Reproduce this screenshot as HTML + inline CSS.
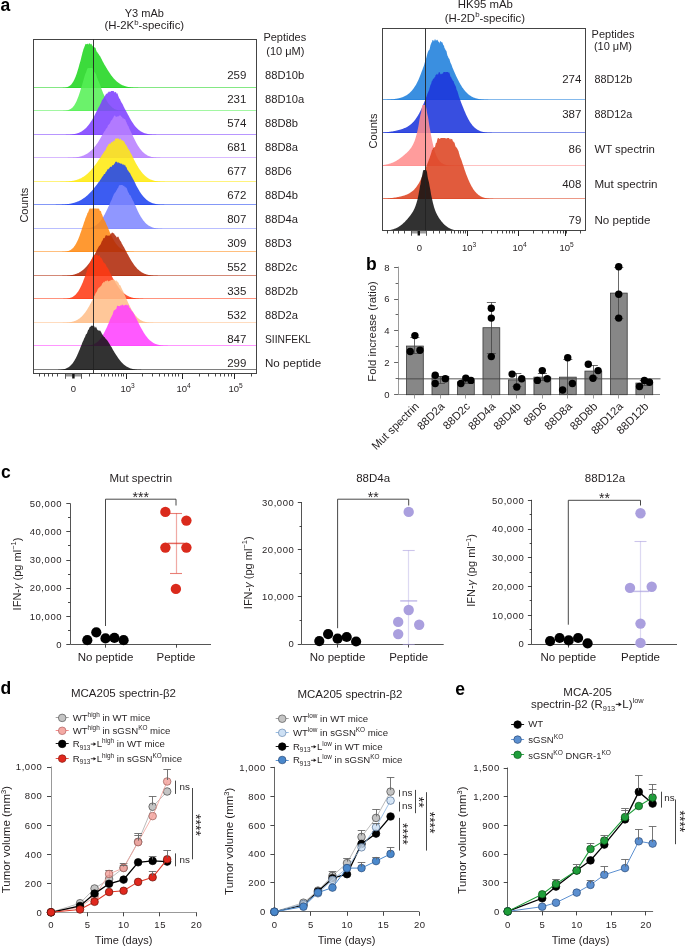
<!DOCTYPE html>
<html><head><meta charset="utf-8"><style>
html,body{margin:0;padding:0;background:#fff;}
body{width:685px;height:946px;overflow:hidden;}
svg{display:block;font-family:"Liberation Sans", sans-serif;will-change:transform;}
</style></head><body>
<svg width="685" height="946" viewBox="0 0 685 946">
<text x="0.50" y="10.80" font-size="17.5" text-anchor="start" font-weight="bold" fill="#000" >a</text>
<text x="144.30" y="17.00" font-size="11" text-anchor="middle" font-weight="normal" fill="#231f20" >Y3 mAb</text>
<text x="104.44" y="29.40" font-size="11.4" fill="#231f20">(H-2K</text>
<text x="134.21" y="25.10" font-size="7.8" fill="#231f20">b</text>
<text x="138.55" y="29.40" font-size="11.4" fill="#231f20">-specific)</text>
<path d="M60.5,88.00 L60.5,87.96 L61.0,87.94 L61.5,87.93 L62.0,87.91 L62.5,87.88 L63.0,87.85 L63.5,87.82 L64.0,87.77 L64.5,87.71 L65.0,87.64 L65.5,87.56 L66.0,87.46 L66.5,87.34 L67.0,87.19 L67.5,87.02 L68.0,86.82 L68.5,86.59 L69.0,86.31 L69.5,85.99 L70.0,85.62 L70.5,85.20 L71.0,84.72 L71.5,84.17 L72.0,83.55 L72.5,82.86 L73.0,82.09 L73.5,81.23 L74.0,80.28 L74.5,79.24 L75.0,78.11 L75.5,76.89 L76.0,75.57 L76.5,74.16 L77.0,72.66 L77.5,71.06 L78.0,69.41 L78.5,67.65 L79.0,65.88 L79.5,64.11 L80.0,62.48 L80.5,60.72 L81.0,58.64 L81.5,56.42 L82.0,54.75 L82.5,52.62 L83.0,50.90 L83.5,48.95 L84.0,48.02 L84.5,46.55 L85.0,45.56 L85.5,43.81 L86.0,44.25 L86.5,44.07 L87.0,44.34 L87.5,43.42 L88.0,44.34 L88.5,44.59 L89.0,43.21 L89.5,43.62 L90.0,43.38 L90.5,44.55 L91.0,43.88 L91.5,43.76 L92.0,45.38 L92.5,45.39 L93.0,46.46 L93.5,47.40 L94.0,47.49 L94.5,47.25 L95.0,47.45 L95.5,47.90 L96.0,49.63 L96.5,50.90 L97.0,52.21 L97.5,52.29 L98.0,53.54 L98.5,53.80 L99.0,54.87 L99.5,55.57 L100.0,56.27 L100.5,56.86 L101.0,58.15 L101.5,58.65 L102.0,59.92 L102.5,61.01 L103.0,61.90 L103.5,62.76 L104.0,63.81 L104.5,64.67 L105.0,65.42 L105.5,66.20 L106.0,67.18 L106.5,68.08 L107.0,68.86 L107.5,69.71 L108.0,70.52 L108.5,71.28 L109.0,72.05 L109.5,72.82 L110.0,73.57 L110.5,74.29 L111.0,74.99 L111.5,75.67 L112.0,76.33 L112.5,76.97 L113.0,77.58 L113.5,78.17 L114.0,78.74 L114.5,79.28 L115.0,79.81 L115.5,80.31 L116.0,80.78 L116.5,81.24 L117.0,81.67 L117.5,82.08 L118.0,82.48 L118.5,82.85 L119.0,83.20 L119.5,83.53 L120.0,83.85 L120.5,84.15 L121.0,84.43 L121.5,84.69 L122.0,84.94 L122.5,85.17 L123.0,85.39 L123.5,85.59 L124.0,85.78 L124.5,85.96 L125.0,86.12 L125.5,86.28 L126.0,86.42 L126.5,86.55 L127.0,86.68 L127.5,86.79 L128.0,86.90 L128.5,87.00 L129.0,87.09 L129.5,87.17 L130.0,87.24 L130.5,87.31 L131.0,87.38 L131.5,87.44 L132.0,87.49 L132.5,87.54 L133.0,87.59 L133.5,87.63 L134.0,87.66 L134.5,87.70 L135.0,87.73 L135.5,87.76 L136.0,87.78 L136.5,87.80 L137.0,87.83 L137.5,87.84 L138.0,87.86 L138.5,87.88 L139.0,87.89 L139.5,87.90 L140.0,87.91 L140.5,87.92 L141.0,87.93 L141.5,87.94 L142.0,87.95 L142.5,87.95 L142.5,88.00 Z" fill="#1fd61f" fill-opacity="0.87"/>
<line x1="33.5" y1="87.50" x2="256.5" y2="87.50" stroke="#1fd61f" stroke-opacity="0.55" stroke-width="1"/>
<path d="M61.0,111.00 L61.0,110.96 L61.5,110.94 L62.0,110.93 L62.5,110.91 L63.0,110.89 L63.5,110.86 L64.0,110.83 L64.5,110.79 L65.0,110.74 L65.5,110.68 L66.0,110.61 L66.5,110.52 L67.0,110.42 L67.5,110.31 L68.0,110.17 L68.5,110.00 L69.0,109.82 L69.5,109.60 L70.0,109.34 L70.5,109.05 L71.0,108.72 L71.5,108.34 L72.0,107.92 L72.5,107.44 L73.0,106.90 L73.5,106.30 L74.0,105.63 L74.5,104.89 L75.0,104.08 L75.5,103.19 L76.0,102.23 L76.5,101.19 L77.0,100.07 L77.5,98.87 L78.0,97.60 L78.5,96.26 L79.0,94.83 L79.5,93.32 L80.0,91.78 L80.5,90.10 L81.0,88.46 L81.5,86.83 L82.0,85.32 L82.5,83.50 L83.0,81.70 L83.5,79.97 L84.0,78.33 L84.5,76.61 L85.0,74.78 L85.5,73.60 L86.0,72.51 L86.5,71.01 L87.0,69.50 L87.5,68.46 L88.0,68.10 L88.5,68.10 L89.0,68.19 L89.5,68.10 L90.0,68.10 L90.5,68.10 L91.0,68.10 L91.5,68.10 L92.0,68.10 L92.5,68.29 L93.0,68.73 L93.5,70.57 L94.0,71.85 L94.5,72.13 L95.0,72.54 L95.5,73.61 L96.0,74.18 L96.5,75.87 L97.0,77.87 L97.5,78.61 L98.0,80.31 L98.5,81.08 L99.0,82.13 L99.5,83.57 L100.0,84.81 L100.5,86.04 L101.0,87.72 L101.5,88.92 L102.0,90.32 L102.5,91.50 L103.0,92.76 L103.5,93.95 L104.0,95.12 L104.5,96.22 L105.0,97.28 L105.5,98.29 L106.0,99.26 L106.5,100.18 L107.0,101.06 L107.5,101.88 L108.0,102.66 L108.5,103.39 L109.0,104.08 L109.5,104.72 L110.0,105.31 L110.5,105.86 L111.0,106.37 L111.5,106.84 L112.0,107.27 L112.5,107.66 L113.0,108.02 L113.5,108.35 L114.0,108.65 L114.5,108.92 L115.0,109.16 L115.5,109.38 L116.0,109.58 L116.5,109.75 L117.0,109.91 L117.5,110.05 L118.0,110.17 L118.5,110.28 L119.0,110.38 L119.5,110.46 L120.0,110.54 L120.5,110.60 L121.0,110.66 L121.5,110.71 L122.0,110.75 L122.5,110.79 L123.0,110.82 L123.5,110.85 L124.0,110.87 L124.5,110.89 L125.0,110.91 L125.5,110.92 L126.0,110.94 L126.5,110.95 L127.0,110.96 L127.0,111.00 Z" fill="#55f055" fill-opacity="0.87"/>
<line x1="33.5" y1="110.50" x2="256.5" y2="110.50" stroke="#55f055" stroke-opacity="0.55" stroke-width="1"/>
<path d="M62.0,135.00 L62.0,134.95 L62.5,134.94 L63.0,134.94 L63.5,134.93 L64.0,134.92 L64.5,134.90 L65.0,134.89 L65.5,134.88 L66.0,134.86 L66.5,134.84 L67.0,134.82 L67.5,134.80 L68.0,134.77 L68.5,134.74 L69.0,134.71 L69.5,134.67 L70.0,134.63 L70.5,134.59 L71.0,134.54 L71.5,134.49 L72.0,134.43 L72.5,134.36 L73.0,134.29 L73.5,134.21 L74.0,134.12 L74.5,134.03 L75.0,133.93 L75.5,133.81 L76.0,133.69 L76.5,133.56 L77.0,133.41 L77.5,133.25 L78.0,133.08 L78.5,132.89 L79.0,132.70 L79.5,132.48 L80.0,132.25 L80.5,132.00 L81.0,131.73 L81.5,131.45 L82.0,131.14 L82.5,130.82 L83.0,130.47 L83.5,130.10 L84.0,129.71 L84.5,129.29 L85.0,128.85 L85.5,128.39 L86.0,127.90 L86.5,127.38 L87.0,126.84 L87.5,126.27 L88.0,125.68 L88.5,125.05 L89.0,124.40 L89.5,123.73 L90.0,123.03 L90.5,122.30 L91.0,121.54 L91.5,120.76 L92.0,119.96 L92.5,119.12 L93.0,118.26 L93.5,117.41 L94.0,116.55 L94.5,115.57 L95.0,114.57 L95.5,113.58 L96.0,112.50 L96.5,111.43 L97.0,110.52 L97.5,109.41 L98.0,108.56 L98.5,107.53 L99.0,106.67 L99.5,106.01 L100.0,104.76 L100.5,103.78 L101.0,102.97 L101.5,101.55 L102.0,100.35 L102.5,99.74 L103.0,98.89 L103.5,98.31 L104.0,97.53 L104.5,96.28 L105.0,95.79 L105.5,94.95 L106.0,94.06 L106.5,94.07 L107.0,93.00 L107.5,93.77 L108.0,91.99 L108.5,92.39 L109.0,91.12 L109.5,92.21 L110.0,91.56 L110.5,91.93 L111.0,90.90 L111.5,90.90 L112.0,90.90 L112.5,90.90 L113.0,90.93 L113.5,90.90 L114.0,91.60 L114.5,92.69 L115.0,91.78 L115.5,92.18 L116.0,92.10 L116.5,93.76 L117.0,93.28 L117.5,93.61 L118.0,95.26 L118.5,96.53 L119.0,97.84 L119.5,98.63 L120.0,98.99 L120.5,100.51 L121.0,101.45 L121.5,102.59 L122.0,103.30 L122.5,104.11 L123.0,105.06 L123.5,106.30 L124.0,107.34 L124.5,108.17 L125.0,109.28 L125.5,110.04 L126.0,110.78 L126.5,111.95 L127.0,112.78 L127.5,113.70 L128.0,114.65 L128.5,115.58 L129.0,116.51 L129.5,117.51 L130.0,118.45 L130.5,119.33 L131.0,120.18 L131.5,121.01 L132.0,121.81 L132.5,122.59 L133.0,123.33 L133.5,124.05 L134.0,124.74 L134.5,125.40 L135.0,126.03 L135.5,126.63 L136.0,127.20 L136.5,127.75 L137.0,128.26 L137.5,128.75 L138.0,129.21 L138.5,129.65 L139.0,130.06 L139.5,130.44 L140.0,130.81 L140.5,131.14 L141.0,131.46 L141.5,131.76 L142.0,132.03 L142.5,132.29 L143.0,132.52 L143.5,132.74 L144.0,132.95 L144.5,133.14 L145.0,133.31 L145.5,133.47 L146.0,133.61 L146.5,133.75 L147.0,133.87 L147.5,133.98 L148.0,134.09 L148.5,134.18 L149.0,134.26 L149.5,134.34 L150.0,134.41 L150.5,134.48 L151.0,134.53 L151.5,134.58 L152.0,134.63 L152.5,134.67 L153.0,134.71 L153.5,134.74 L154.0,134.77 L154.5,134.80 L155.0,134.82 L155.5,134.84 L156.0,134.86 L156.5,134.88 L157.0,134.90 L157.5,134.91 L158.0,134.92 L158.5,134.93 L159.0,134.94 L159.5,134.95 L160.0,134.95 L160.0,135.00 Z" fill="#7d40ff" fill-opacity="0.87"/>
<line x1="33.5" y1="134.50" x2="256.5" y2="134.50" stroke="#7d40ff" stroke-opacity="0.55" stroke-width="1"/>
<path d="M64.0,158.00 L64.0,157.95 L64.5,157.94 L65.0,157.94 L65.5,157.93 L66.0,157.92 L66.5,157.91 L67.0,157.90 L67.5,157.89 L68.0,157.87 L68.5,157.86 L69.0,157.84 L69.5,157.82 L70.0,157.80 L70.5,157.78 L71.0,157.75 L71.5,157.72 L72.0,157.69 L72.5,157.66 L73.0,157.62 L73.5,157.58 L74.0,157.54 L74.5,157.49 L75.0,157.44 L75.5,157.38 L76.0,157.32 L76.5,157.25 L77.0,157.17 L77.5,157.09 L78.0,157.00 L78.5,156.91 L79.0,156.81 L79.5,156.70 L80.0,156.58 L80.5,156.45 L81.0,156.31 L81.5,156.16 L82.0,156.00 L82.5,155.83 L83.0,155.65 L83.5,155.46 L84.0,155.25 L84.5,155.03 L85.0,154.79 L85.5,154.54 L86.0,154.28 L86.5,153.99 L87.0,153.70 L87.5,153.38 L88.0,153.05 L88.5,152.69 L89.0,152.32 L89.5,151.94 L90.0,151.53 L90.5,151.10 L91.0,150.65 L91.5,150.18 L92.0,149.69 L92.5,149.18 L93.0,148.65 L93.5,148.09 L94.0,147.52 L94.5,146.92 L95.0,146.31 L95.5,145.67 L96.0,145.02 L96.5,144.34 L97.0,143.64 L97.5,142.92 L98.0,142.17 L98.5,141.41 L99.0,140.62 L99.5,139.83 L100.0,138.96 L100.5,138.12 L101.0,137.26 L101.5,136.35 L102.0,135.41 L102.5,134.70 L103.0,133.85 L103.5,132.95 L104.0,132.04 L104.5,131.37 L105.0,130.88 L105.5,129.68 L106.0,128.81 L106.5,128.29 L107.0,127.89 L107.5,126.76 L108.0,125.32 L108.5,124.99 L109.0,124.37 L109.5,124.09 L110.0,122.97 L110.5,121.90 L111.0,120.55 L111.5,120.17 L112.0,120.14 L112.5,118.59 L113.0,118.60 L113.5,117.11 L114.0,116.25 L114.5,115.50 L115.0,115.50 L115.5,116.15 L116.0,117.11 L116.5,116.44 L117.0,116.94 L117.5,116.11 L118.0,116.87 L118.5,116.36 L119.0,115.78 L119.5,115.50 L120.0,115.50 L120.5,115.51 L121.0,116.04 L121.5,117.06 L122.0,116.82 L122.5,117.88 L123.0,118.57 L123.5,118.01 L124.0,119.21 L124.5,118.92 L125.0,118.93 L125.5,120.05 L126.0,121.48 L126.5,122.35 L127.0,124.05 L127.5,124.42 L128.0,125.97 L128.5,126.35 L129.0,127.88 L129.5,128.93 L130.0,129.96 L130.5,131.03 L131.0,132.16 L131.5,132.95 L132.0,134.02 L132.5,134.95 L133.0,136.26 L133.5,137.26 L134.0,138.23 L134.5,139.26 L135.0,140.34 L135.5,141.32 L136.0,142.25 L136.5,143.15 L137.0,144.03 L137.5,144.88 L138.0,145.70 L138.5,146.50 L139.0,147.25 L139.5,147.98 L140.0,148.67 L140.5,149.33 L141.0,149.96 L141.5,150.56 L142.0,151.12 L142.5,151.65 L143.0,152.15 L143.5,152.62 L144.0,153.06 L144.5,153.48 L145.0,153.86 L145.5,154.22 L146.0,154.55 L146.5,154.86 L147.0,155.15 L147.5,155.42 L148.0,155.66 L148.5,155.89 L149.0,156.09 L149.5,156.28 L150.0,156.46 L150.5,156.61 L151.0,156.76 L151.5,156.89 L152.0,157.01 L152.5,157.12 L153.0,157.21 L153.5,157.30 L154.0,157.38 L154.5,157.45 L155.0,157.52 L155.5,157.57 L156.0,157.62 L156.5,157.67 L157.0,157.71 L157.5,157.75 L158.0,157.78 L158.5,157.81 L159.0,157.83 L159.5,157.85 L160.0,157.87 L160.5,157.89 L161.0,157.90 L161.5,157.92 L162.0,157.93 L162.5,157.94 L163.0,157.95 L163.5,157.95 L163.5,158.00 Z" fill="#b880ff" fill-opacity="0.87"/>
<line x1="33.5" y1="157.50" x2="256.5" y2="157.50" stroke="#b880ff" stroke-opacity="0.55" stroke-width="1"/>
<path d="M55.5,182.00 L55.5,181.95 L56.0,181.95 L56.5,181.94 L57.0,181.94 L57.5,181.93 L58.0,181.92 L58.5,181.91 L59.0,181.90 L59.5,181.89 L60.0,181.88 L60.5,181.87 L61.0,181.85 L61.5,181.84 L62.0,181.82 L62.5,181.80 L63.0,181.79 L63.5,181.76 L64.0,181.74 L64.5,181.71 L65.0,181.69 L65.5,181.66 L66.0,181.62 L66.5,181.59 L67.0,181.55 L67.5,181.51 L68.0,181.46 L68.5,181.41 L69.0,181.36 L69.5,181.31 L70.0,181.24 L70.5,181.18 L71.0,181.11 L71.5,181.03 L72.0,180.95 L72.5,180.86 L73.0,180.77 L73.5,180.67 L74.0,180.56 L74.5,180.45 L75.0,180.33 L75.5,180.20 L76.0,180.06 L76.5,179.91 L77.0,179.76 L77.5,179.59 L78.0,179.42 L78.5,179.23 L79.0,179.03 L79.5,178.83 L80.0,178.61 L80.5,178.38 L81.0,178.13 L81.5,177.88 L82.0,177.60 L82.5,177.32 L83.0,177.02 L83.5,176.71 L84.0,176.38 L84.5,176.04 L85.0,175.69 L85.5,175.31 L86.0,174.92 L86.5,174.52 L87.0,174.10 L87.5,173.66 L88.0,173.21 L88.5,172.74 L89.0,172.25 L89.5,171.74 L90.0,171.22 L90.5,170.69 L91.0,170.13 L91.5,169.56 L92.0,168.97 L92.5,168.37 L93.0,167.75 L93.5,167.12 L94.0,166.47 L94.5,165.81 L95.0,165.14 L95.5,164.46 L96.0,163.80 L96.5,163.15 L97.0,162.41 L97.5,161.64 L98.0,160.81 L98.5,160.17 L99.0,159.54 L99.5,158.72 L100.0,158.09 L100.5,157.53 L101.0,156.64 L101.5,155.68 L102.0,154.99 L102.5,154.16 L103.0,153.76 L103.5,152.84 L104.0,152.11 L104.5,151.18 L105.0,150.86 L105.5,150.18 L106.0,148.91 L106.5,147.63 L107.0,146.40 L107.5,146.54 L108.0,145.25 L108.5,144.14 L109.0,143.94 L109.5,143.55 L110.0,143.39 L110.5,143.67 L111.0,143.07 L111.5,141.86 L112.0,142.37 L112.5,142.61 L113.0,140.86 L113.5,140.76 L114.0,141.38 L114.5,141.08 L115.0,139.37 L115.5,138.50 L116.0,138.50 L116.5,138.50 L117.0,138.50 L117.5,138.50 L118.0,138.50 L118.5,138.50 L119.0,138.80 L119.5,140.02 L120.0,139.10 L120.5,138.50 L121.0,139.56 L121.5,140.18 L122.0,140.73 L122.5,139.82 L123.0,140.95 L123.5,141.18 L124.0,141.25 L124.5,142.24 L125.0,143.76 L125.5,143.98 L126.0,145.31 L126.5,145.24 L127.0,146.58 L127.5,147.13 L128.0,148.64 L128.5,148.96 L129.0,149.72 L129.5,150.68 L130.0,151.45 L130.5,152.89 L131.0,153.53 L131.5,154.58 L132.0,155.34 L132.5,156.56 L133.0,157.44 L133.5,158.48 L134.0,159.63 L134.5,160.61 L135.0,161.61 L135.5,162.54 L136.0,163.47 L136.5,164.34 L137.0,165.18 L137.5,166.02 L138.0,166.84 L138.5,167.64 L139.0,168.42 L139.5,169.18 L140.0,169.91 L140.5,170.61 L141.0,171.29 L141.5,171.94 L142.0,172.56 L142.5,173.16 L143.0,173.73 L143.5,174.28 L144.0,174.79 L144.5,175.29 L145.0,175.76 L145.5,176.20 L146.0,176.62 L146.5,177.01 L147.0,177.39 L147.5,177.74 L148.0,178.07 L148.5,178.38 L149.0,178.67 L149.5,178.94 L150.0,179.19 L150.5,179.42 L151.0,179.64 L151.5,179.85 L152.0,180.03 L152.5,180.21 L153.0,180.37 L153.5,180.52 L154.0,180.66 L154.5,180.78 L155.0,180.90 L155.5,181.00 L156.0,181.10 L156.5,181.19 L157.0,181.27 L157.5,181.34 L158.0,181.41 L158.5,181.47 L159.0,181.53 L159.5,181.58 L160.0,181.62 L160.5,181.66 L161.0,181.70 L161.5,181.73 L162.0,181.76 L162.5,181.79 L163.0,181.81 L163.5,181.84 L164.0,181.86 L164.5,181.87 L165.0,181.89 L165.5,181.90 L166.0,181.91 L166.5,181.92 L167.0,181.93 L167.5,181.94 L168.0,181.95 L168.5,181.96 L168.5,182.00 Z" fill="#ffea10" fill-opacity="0.87"/>
<line x1="33.5" y1="181.50" x2="256.5" y2="181.50" stroke="#ffea10" stroke-opacity="0.55" stroke-width="1"/>
<path d="M50.5,205.00 L50.5,204.95 L51.0,204.95 L51.5,204.94 L52.0,204.94 L52.5,204.93 L53.0,204.92 L53.5,204.92 L54.0,204.91 L54.5,204.90 L55.0,204.89 L55.5,204.88 L56.0,204.87 L56.5,204.85 L57.0,204.84 L57.5,204.82 L58.0,204.81 L58.5,204.79 L59.0,204.77 L59.5,204.75 L60.0,204.73 L60.5,204.71 L61.0,204.68 L61.5,204.65 L62.0,204.62 L62.5,204.59 L63.0,204.56 L63.5,204.52 L64.0,204.48 L64.5,204.44 L65.0,204.39 L65.5,204.34 L66.0,204.29 L66.5,204.24 L67.0,204.18 L67.5,204.11 L68.0,204.04 L68.5,203.97 L69.0,203.89 L69.5,203.81 L70.0,203.72 L70.5,203.63 L71.0,203.53 L71.5,203.43 L72.0,203.32 L72.5,203.20 L73.0,203.08 L73.5,202.95 L74.0,202.81 L74.5,202.66 L75.0,202.51 L75.5,202.34 L76.0,202.17 L76.5,201.99 L77.0,201.80 L77.5,201.60 L78.0,201.40 L78.5,201.18 L79.0,200.95 L79.5,200.71 L80.0,200.46 L80.5,200.19 L81.0,199.92 L81.5,199.64 L82.0,199.34 L82.5,199.03 L83.0,198.71 L83.5,198.37 L84.0,198.02 L84.5,197.66 L85.0,197.29 L85.5,196.90 L86.0,196.50 L86.5,196.09 L87.0,195.66 L87.5,195.22 L88.0,194.76 L88.5,194.29 L89.0,193.81 L89.5,193.31 L90.0,192.80 L90.5,192.28 L91.0,191.75 L91.5,191.20 L92.0,190.64 L92.5,190.06 L93.0,189.48 L93.5,188.86 L94.0,188.23 L94.5,187.60 L95.0,186.99 L95.5,186.36 L96.0,185.71 L96.5,185.03 L97.0,184.48 L97.5,183.70 L98.0,182.92 L98.5,182.37 L99.0,181.73 L99.5,181.24 L100.0,180.33 L100.5,179.40 L101.0,178.95 L101.5,178.02 L102.0,177.26 L102.5,176.52 L103.0,176.06 L103.5,175.20 L104.0,174.12 L104.5,174.08 L105.0,173.95 L105.5,172.62 L106.0,171.76 L106.5,171.60 L107.0,170.49 L107.5,169.25 L108.0,169.35 L108.5,169.23 L109.0,168.29 L109.5,168.14 L110.0,166.85 L110.5,166.85 L111.0,166.91 L111.5,166.73 L112.0,166.13 L112.5,164.89 L113.0,165.05 L113.5,165.13 L114.0,164.29 L114.5,163.73 L115.0,162.65 L115.5,161.80 L116.0,161.80 L116.5,161.84 L117.0,161.80 L117.5,162.46 L118.0,163.48 L118.5,162.10 L119.0,162.71 L119.5,162.91 L120.0,163.60 L120.5,163.31 L121.0,164.18 L121.5,163.39 L122.0,163.54 L122.5,164.72 L123.0,164.52 L123.5,164.13 L124.0,165.47 L124.5,165.14 L125.0,164.56 L125.5,166.31 L126.0,167.07 L126.5,167.30 L127.0,168.74 L127.5,169.94 L128.0,170.44 L128.5,171.09 L129.0,172.18 L129.5,172.58 L130.0,173.00 L130.5,174.21 L131.0,175.16 L131.5,176.20 L132.0,177.06 L132.5,177.96 L133.0,178.91 L133.5,179.80 L134.0,180.71 L134.5,181.72 L135.0,182.75 L135.5,183.86 L136.0,184.90 L136.5,185.92 L137.0,186.81 L137.5,187.73 L138.0,188.61 L138.5,189.47 L139.0,190.32 L139.5,191.14 L140.0,191.93 L140.5,192.69 L141.0,193.43 L141.5,194.14 L142.0,194.82 L142.5,195.47 L143.0,196.09 L143.5,196.69 L144.0,197.25 L144.5,197.79 L145.0,198.30 L145.5,198.79 L146.0,199.24 L146.5,199.67 L147.0,200.08 L147.5,200.46 L148.0,200.82 L148.5,201.16 L149.0,201.47 L149.5,201.77 L150.0,202.04 L150.5,202.29 L151.0,202.53 L151.5,202.75 L152.0,202.95 L152.5,203.14 L153.0,203.31 L153.5,203.47 L154.0,203.62 L154.5,203.75 L155.0,203.87 L155.5,203.98 L156.0,204.09 L156.5,204.18 L157.0,204.26 L157.5,204.34 L158.0,204.41 L158.5,204.47 L159.0,204.53 L159.5,204.58 L160.0,204.63 L160.5,204.67 L161.0,204.71 L161.5,204.74 L162.0,204.77 L162.5,204.80 L163.0,204.82 L163.5,204.84 L164.0,204.86 L164.5,204.88 L165.0,204.89 L165.5,204.91 L166.0,204.92 L166.5,204.93 L167.0,204.94 L167.5,204.95 L168.0,204.95 L168.0,205.00 Z" fill="#1f44f0" fill-opacity="0.87"/>
<line x1="33.5" y1="204.50" x2="256.5" y2="204.50" stroke="#1f44f0" stroke-opacity="0.55" stroke-width="1"/>
<path d="M78.5,229.00 L78.5,228.96 L79.0,228.95 L79.5,228.94 L80.0,228.93 L80.5,228.92 L81.0,228.91 L81.5,228.89 L82.0,228.87 L82.5,228.85 L83.0,228.83 L83.5,228.80 L84.0,228.78 L84.5,228.74 L85.0,228.70 L85.5,228.66 L86.0,228.61 L86.5,228.56 L87.0,228.50 L87.5,228.43 L88.0,228.36 L88.5,228.27 L89.0,228.18 L89.5,228.07 L90.0,227.96 L90.5,227.83 L91.0,227.69 L91.5,227.53 L92.0,227.36 L92.5,227.17 L93.0,226.97 L93.5,226.74 L94.0,226.49 L94.5,226.23 L95.0,225.94 L95.5,225.62 L96.0,225.28 L96.5,224.92 L97.0,224.52 L97.5,224.10 L98.0,223.64 L98.5,223.16 L99.0,222.64 L99.5,222.09 L100.0,221.51 L100.5,220.89 L101.0,220.23 L101.5,219.54 L102.0,218.82 L102.5,218.05 L103.0,217.26 L103.5,216.42 L104.0,215.56 L104.5,214.66 L105.0,213.72 L105.5,212.77 L106.0,211.81 L106.5,210.85 L107.0,209.79 L107.5,208.67 L108.0,207.60 L108.5,206.54 L109.0,205.47 L109.5,204.50 L110.0,203.23 L110.5,201.96 L111.0,201.10 L111.5,200.01 L112.0,198.93 L112.5,197.39 L113.0,196.24 L113.5,195.33 L114.0,193.72 L114.5,193.40 L115.0,192.55 L115.5,192.15 L116.0,191.23 L116.5,190.23 L117.0,189.86 L117.5,188.11 L118.0,188.42 L118.5,186.68 L119.0,185.50 L119.5,185.25 L120.0,185.10 L120.5,185.26 L121.0,185.10 L121.5,185.10 L122.0,185.10 L122.5,185.10 L123.0,185.81 L123.5,185.93 L124.0,185.47 L124.5,186.40 L125.0,187.48 L125.5,186.59 L126.0,188.15 L126.5,187.62 L127.0,189.00 L127.5,190.39 L128.0,191.68 L128.5,192.81 L129.0,193.60 L129.5,194.89 L130.0,194.83 L130.5,195.66 L131.0,196.58 L131.5,197.92 L132.0,198.59 L132.5,199.99 L133.0,200.63 L133.5,201.39 L134.0,202.63 L134.5,203.94 L135.0,204.90 L135.5,205.99 L136.0,207.06 L136.5,208.27 L137.0,209.32 L137.5,210.42 L138.0,211.48 L138.5,212.48 L139.0,213.45 L139.5,214.38 L140.0,215.29 L140.5,216.16 L141.0,216.99 L141.5,217.79 L142.0,218.56 L142.5,219.29 L143.0,219.99 L143.5,220.65 L144.0,221.28 L144.5,221.87 L145.0,222.43 L145.5,222.96 L146.0,223.45 L146.5,223.91 L147.0,224.35 L147.5,224.75 L148.0,225.13 L148.5,225.47 L149.0,225.80 L149.5,226.10 L150.0,226.37 L150.5,226.62 L151.0,226.86 L151.5,227.07 L152.0,227.27 L152.5,227.45 L153.0,227.61 L153.5,227.76 L154.0,227.89 L154.5,228.01 L155.0,228.12 L155.5,228.22 L156.0,228.31 L156.5,228.39 L157.0,228.46 L157.5,228.52 L158.0,228.58 L158.5,228.63 L159.0,228.68 L159.5,228.72 L160.0,228.75 L160.5,228.79 L161.0,228.81 L161.5,228.84 L162.0,228.86 L162.5,228.88 L163.0,228.90 L163.5,228.91 L164.0,228.92 L164.5,228.93 L165.0,228.94 L165.5,228.95 L165.5,229.00 Z" fill="#8088ff" fill-opacity="0.87"/>
<line x1="33.5" y1="228.50" x2="256.5" y2="228.50" stroke="#8088ff" stroke-opacity="0.55" stroke-width="1"/>
<path d="M60.0,252.00 L60.0,251.95 L60.5,251.94 L61.0,251.93 L61.5,251.91 L62.0,251.89 L62.5,251.87 L63.0,251.84 L63.5,251.81 L64.0,251.77 L64.5,251.72 L65.0,251.66 L65.5,251.60 L66.0,251.52 L66.5,251.42 L67.0,251.32 L67.5,251.19 L68.0,251.05 L68.5,250.88 L69.0,250.69 L69.5,250.47 L70.0,250.23 L70.5,249.94 L71.0,249.63 L71.5,249.27 L72.0,248.87 L72.5,248.42 L73.0,247.93 L73.5,247.38 L74.0,246.78 L74.5,246.11 L75.0,245.39 L75.5,244.60 L76.0,243.75 L76.5,242.83 L77.0,241.85 L77.5,240.80 L78.0,239.68 L78.5,238.49 L79.0,237.25 L79.5,235.94 L80.0,234.57 L80.5,233.11 L81.0,231.75 L81.5,230.27 L82.0,228.57 L82.5,226.98 L83.0,225.63 L83.5,224.17 L84.0,222.58 L84.5,221.13 L85.0,219.97 L85.5,218.09 L86.0,217.30 L86.5,215.63 L87.0,214.83 L87.5,212.69 L88.0,212.71 L88.5,211.24 L89.0,209.92 L89.5,208.71 L90.0,208.50 L90.5,208.50 L91.0,208.50 L91.5,208.83 L92.0,208.50 L92.5,208.50 L93.0,208.50 L93.5,208.50 L94.0,208.50 L94.5,208.51 L95.0,208.50 L95.5,208.50 L96.0,208.50 L96.5,208.50 L97.0,208.70 L97.5,208.50 L98.0,208.50 L98.5,208.75 L99.0,208.54 L99.5,209.88 L100.0,211.14 L100.5,210.84 L101.0,211.33 L101.5,213.50 L102.0,214.15 L102.5,215.61 L103.0,217.19 L103.5,218.30 L104.0,219.21 L104.5,220.54 L105.0,221.03 L105.5,222.29 L106.0,223.24 L106.5,224.77 L107.0,225.76 L107.5,226.80 L108.0,227.84 L108.5,229.15 L109.0,230.32 L109.5,231.47 L110.0,232.70 L110.5,233.81 L111.0,234.88 L111.5,235.88 L112.0,236.90 L112.5,237.88 L113.0,238.82 L113.5,239.73 L114.0,240.60 L114.5,241.42 L115.0,242.21 L115.5,242.96 L116.0,243.67 L116.5,244.34 L117.0,244.97 L117.5,245.56 L118.0,246.11 L118.5,246.63 L119.0,247.11 L119.5,247.56 L120.0,247.97 L120.5,248.36 L121.0,248.71 L121.5,249.04 L122.0,249.34 L122.5,249.61 L123.0,249.86 L123.5,250.09 L124.0,250.30 L124.5,250.48 L125.0,250.65 L125.5,250.81 L126.0,250.94 L126.5,251.07 L127.0,251.18 L127.5,251.28 L128.0,251.37 L128.5,251.45 L129.0,251.52 L129.5,251.58 L130.0,251.63 L130.5,251.68 L131.0,251.72 L131.5,251.76 L132.0,251.79 L132.5,251.82 L133.0,251.85 L133.5,251.87 L134.0,251.89 L134.5,251.90 L135.0,251.92 L135.5,251.93 L136.0,251.94 L136.5,251.95 L136.5,252.00 Z" fill="#ff8a14" fill-opacity="0.87"/>
<line x1="33.5" y1="251.50" x2="256.5" y2="251.50" stroke="#ff8a14" stroke-opacity="0.55" stroke-width="1"/>
<path d="M58.0,276.00 L58.0,275.96 L58.5,275.95 L59.0,275.94 L59.5,275.94 L60.0,275.93 L60.5,275.92 L61.0,275.91 L61.5,275.89 L62.0,275.88 L62.5,275.87 L63.0,275.85 L63.5,275.83 L64.0,275.81 L64.5,275.79 L65.0,275.76 L65.5,275.73 L66.0,275.70 L66.5,275.67 L67.0,275.63 L67.5,275.59 L68.0,275.55 L68.5,275.50 L69.0,275.44 L69.5,275.38 L70.0,275.32 L70.5,275.25 L71.0,275.17 L71.5,275.09 L72.0,275.00 L72.5,274.90 L73.0,274.79 L73.5,274.67 L74.0,274.55 L74.5,274.41 L75.0,274.27 L75.5,274.11 L76.0,273.94 L76.5,273.76 L77.0,273.56 L77.5,273.35 L78.0,273.13 L78.5,272.89 L79.0,272.64 L79.5,272.37 L80.0,272.08 L80.5,271.78 L81.0,271.45 L81.5,271.11 L82.0,270.75 L82.5,270.37 L83.0,269.96 L83.5,269.54 L84.0,269.09 L84.5,268.62 L85.0,268.13 L85.5,267.62 L86.0,267.09 L86.5,266.53 L87.0,265.95 L87.5,265.34 L88.0,264.71 L88.5,264.06 L89.0,263.39 L89.5,262.70 L90.0,261.98 L90.5,261.24 L91.0,260.49 L91.5,259.71 L92.0,258.91 L92.5,258.12 L93.0,257.23 L93.5,256.39 L94.0,255.61 L94.5,254.71 L95.0,253.80 L95.5,253.01 L96.0,251.93 L96.5,250.84 L97.0,249.72 L97.5,249.05 L98.0,248.10 L98.5,246.97 L99.0,246.29 L99.5,245.72 L100.0,245.18 L100.5,244.61 L101.0,243.45 L101.5,242.11 L102.0,240.89 L102.5,240.62 L103.0,239.25 L103.5,238.03 L104.0,237.97 L104.5,238.18 L105.0,236.97 L105.5,235.73 L106.0,234.95 L106.5,235.31 L107.0,235.74 L107.5,235.48 L108.0,235.73 L108.5,235.85 L109.0,235.33 L109.5,235.38 L110.0,235.74 L110.5,233.81 L111.0,233.77 L111.5,233.18 L112.0,232.60 L112.5,232.72 L113.0,232.76 L113.5,233.57 L114.0,233.24 L114.5,234.59 L115.0,234.98 L115.5,235.80 L116.0,236.01 L116.5,237.18 L117.0,237.59 L117.5,236.85 L118.0,236.72 L118.5,236.79 L119.0,238.54 L119.5,239.17 L120.0,240.48 L120.5,241.10 L121.0,241.72 L121.5,242.86 L122.0,244.25 L122.5,244.38 L123.0,245.72 L123.5,246.38 L124.0,247.22 L124.5,248.25 L125.0,249.27 L125.5,250.24 L126.0,251.37 L126.5,252.11 L127.0,253.16 L127.5,253.98 L128.0,254.81 L128.5,255.73 L129.0,256.70 L129.5,257.57 L130.0,258.49 L130.5,259.34 L131.0,260.20 L131.5,261.03 L132.0,261.83 L132.5,262.60 L133.0,263.35 L133.5,264.07 L134.0,264.77 L134.5,265.44 L135.0,266.09 L135.5,266.70 L136.0,267.30 L136.5,267.86 L137.0,268.40 L137.5,268.91 L138.0,269.40 L138.5,269.86 L139.0,270.30 L139.5,270.71 L140.0,271.10 L140.5,271.47 L141.0,271.82 L141.5,272.14 L142.0,272.44 L142.5,272.73 L143.0,273.00 L143.5,273.24 L144.0,273.48 L144.5,273.69 L145.0,273.89 L145.5,274.08 L146.0,274.25 L146.5,274.40 L147.0,274.55 L147.5,274.68 L148.0,274.81 L148.5,274.92 L149.0,275.03 L149.5,275.12 L150.0,275.21 L150.5,275.29 L151.0,275.36 L151.5,275.43 L152.0,275.48 L152.5,275.54 L153.0,275.59 L153.5,275.63 L154.0,275.67 L154.5,275.71 L155.0,275.74 L155.5,275.77 L156.0,275.80 L156.5,275.82 L157.0,275.84 L157.5,275.86 L158.0,275.88 L158.5,275.89 L159.0,275.90 L159.5,275.92 L160.0,275.93 L160.5,275.94 L161.0,275.94 L161.5,275.95 L161.5,276.00 Z" fill="#b02808" fill-opacity="0.87"/>
<line x1="33.5" y1="275.50" x2="256.5" y2="275.50" stroke="#b02808" stroke-opacity="0.55" stroke-width="1"/>
<path d="M61.0,299.00 L61.0,298.95 L61.5,298.94 L62.0,298.93 L62.5,298.91 L63.0,298.89 L63.5,298.87 L64.0,298.85 L64.5,298.82 L65.0,298.78 L65.5,298.74 L66.0,298.70 L66.5,298.64 L67.0,298.58 L67.5,298.51 L68.0,298.43 L68.5,298.33 L69.0,298.22 L69.5,298.10 L70.0,297.96 L70.5,297.80 L71.0,297.61 L71.5,297.41 L72.0,297.18 L72.5,296.93 L73.0,296.64 L73.5,296.32 L74.0,295.97 L74.5,295.59 L75.0,295.16 L75.5,294.69 L76.0,294.18 L76.5,293.62 L77.0,293.02 L77.5,292.36 L78.0,291.66 L78.5,290.90 L79.0,290.09 L79.5,289.22 L80.0,288.30 L80.5,287.32 L81.0,286.29 L81.5,285.21 L82.0,284.08 L82.5,282.89 L83.0,281.64 L83.5,280.36 L84.0,279.03 L84.5,277.75 L85.0,276.40 L85.5,275.18 L86.0,273.58 L86.5,272.04 L87.0,270.54 L87.5,268.90 L88.0,267.76 L88.5,266.92 L89.0,265.36 L89.5,264.27 L90.0,262.85 L90.5,262.49 L91.0,260.62 L91.5,259.45 L92.0,258.49 L92.5,257.24 L93.0,256.10 L93.5,255.90 L94.0,255.49 L94.5,254.80 L95.0,255.74 L95.5,254.80 L96.0,254.80 L96.5,255.29 L97.0,254.80 L97.5,254.80 L98.0,255.89 L98.5,255.88 L99.0,255.14 L99.5,254.90 L100.0,256.42 L100.5,257.76 L101.0,257.53 L101.5,258.36 L102.0,258.92 L102.5,260.00 L103.0,261.30 L103.5,262.27 L104.0,262.71 L104.5,263.21 L105.0,263.56 L105.5,264.22 L106.0,264.89 L106.5,266.42 L107.0,267.10 L107.5,267.81 L108.0,268.42 L108.5,269.33 L109.0,270.61 L109.5,271.61 L110.0,272.72 L110.5,273.50 L111.0,274.51 L111.5,275.45 L112.0,276.47 L112.5,277.45 L113.0,278.43 L113.5,279.37 L114.0,280.15 L114.5,281.04 L115.0,281.86 L115.5,282.72 L116.0,283.54 L116.5,284.34 L117.0,285.11 L117.5,285.87 L118.0,286.60 L118.5,287.30 L119.0,287.98 L119.5,288.63 L120.0,289.26 L120.5,289.86 L121.0,290.43 L121.5,290.98 L122.0,291.51 L122.5,292.01 L123.0,292.48 L123.5,292.93 L124.0,293.36 L124.5,293.76 L125.0,294.14 L125.5,294.50 L126.0,294.84 L126.5,295.16 L127.0,295.45 L127.5,295.73 L128.0,296.00 L128.5,296.24 L129.0,296.47 L129.5,296.68 L130.0,296.88 L130.5,297.06 L131.0,297.23 L131.5,297.38 L132.0,297.53 L132.5,297.66 L133.0,297.79 L133.5,297.90 L134.0,298.00 L134.5,298.10 L135.0,298.19 L135.5,298.26 L136.0,298.34 L136.5,298.40 L137.0,298.46 L137.5,298.52 L138.0,298.57 L138.5,298.61 L139.0,298.66 L139.5,298.69 L140.0,298.73 L140.5,298.76 L141.0,298.78 L141.5,298.81 L142.0,298.83 L142.5,298.85 L143.0,298.87 L143.5,298.88 L144.0,298.90 L144.5,298.91 L145.0,298.92 L145.5,298.93 L146.0,298.94 L146.5,298.95 L147.0,298.95 L147.0,299.00 Z" fill="#ff3a14" fill-opacity="0.87"/>
<line x1="33.5" y1="298.50" x2="256.5" y2="298.50" stroke="#ff3a14" stroke-opacity="0.55" stroke-width="1"/>
<path d="M59.0,323.00 L59.0,322.95 L59.5,322.95 L60.0,322.94 L60.5,322.93 L61.0,322.92 L61.5,322.91 L62.0,322.89 L62.5,322.88 L63.0,322.86 L63.5,322.84 L64.0,322.82 L64.5,322.79 L65.0,322.77 L65.5,322.73 L66.0,322.70 L66.5,322.66 L67.0,322.62 L67.5,322.57 L68.0,322.52 L68.5,322.46 L69.0,322.40 L69.5,322.32 L70.0,322.25 L70.5,322.16 L71.0,322.06 L71.5,321.96 L72.0,321.85 L72.5,321.72 L73.0,321.58 L73.5,321.43 L74.0,321.27 L74.5,321.10 L75.0,320.91 L75.5,320.70 L76.0,320.48 L76.5,320.24 L77.0,319.98 L77.5,319.70 L78.0,319.40 L78.5,319.08 L79.0,318.74 L79.5,318.38 L80.0,317.99 L80.5,317.58 L81.0,317.14 L81.5,316.68 L82.0,316.19 L82.5,315.67 L83.0,315.12 L83.5,314.55 L84.0,313.95 L84.5,313.32 L85.0,312.66 L85.5,311.97 L86.0,311.26 L86.5,310.51 L87.0,309.74 L87.5,308.94 L88.0,308.12 L88.5,307.27 L89.0,306.39 L89.5,305.50 L90.0,304.61 L90.5,303.68 L91.0,302.71 L91.5,301.68 L92.0,300.66 L92.5,299.84 L93.0,299.02 L93.5,297.72 L94.0,296.56 L94.5,295.80 L95.0,294.63 L95.5,293.27 L96.0,292.76 L96.5,292.08 L97.0,291.24 L97.5,289.68 L98.0,288.67 L98.5,288.16 L99.0,287.57 L99.5,287.22 L100.0,287.13 L100.5,286.15 L101.0,285.65 L101.5,285.62 L102.0,284.08 L102.5,282.96 L103.0,283.28 L103.5,281.70 L104.0,282.12 L104.5,282.40 L105.0,280.74 L105.5,281.07 L106.0,281.45 L106.5,281.00 L107.0,280.32 L107.5,280.29 L108.0,281.19 L108.5,281.16 L109.0,281.33 L109.5,280.56 L110.0,281.29 L110.5,280.15 L111.0,279.71 L111.5,280.00 L112.0,279.92 L112.5,279.70 L113.0,279.70 L113.5,279.81 L114.0,279.70 L114.5,279.70 L115.0,280.33 L115.5,280.70 L116.0,281.11 L116.5,280.07 L117.0,281.73 L117.5,281.31 L118.0,282.52 L118.5,282.54 L119.0,284.23 L119.5,284.92 L120.0,285.30 L120.5,285.39 L121.0,287.07 L121.5,287.99 L122.0,288.96 L122.5,290.31 L123.0,290.85 L123.5,292.22 L124.0,293.66 L124.5,294.42 L125.0,295.57 L125.5,296.72 L126.0,297.89 L126.5,298.94 L127.0,300.28 L127.5,301.34 L128.0,302.49 L128.5,303.58 L129.0,304.58 L129.5,305.62 L130.0,306.57 L130.5,307.53 L131.0,308.48 L131.5,309.40 L132.0,310.28 L132.5,311.13 L133.0,311.94 L133.5,312.72 L134.0,313.46 L134.5,314.16 L135.0,314.83 L135.5,315.46 L136.0,316.05 L136.5,316.61 L137.0,317.14 L137.5,317.63 L138.0,318.09 L138.5,318.52 L139.0,318.92 L139.5,319.29 L140.0,319.64 L140.5,319.96 L141.0,320.25 L141.5,320.52 L142.0,320.77 L142.5,320.99 L143.0,321.20 L143.5,321.39 L144.0,321.56 L144.5,321.71 L145.0,321.86 L145.5,321.98 L146.0,322.10 L146.5,322.20 L147.0,322.29 L147.5,322.38 L148.0,322.45 L148.5,322.52 L149.0,322.58 L149.5,322.63 L150.0,322.68 L150.5,322.72 L151.0,322.76 L151.5,322.79 L152.0,322.82 L152.5,322.84 L153.0,322.86 L153.5,322.88 L154.0,322.90 L154.5,322.91 L155.0,322.92 L155.5,322.94 L156.0,322.95 L156.5,322.95 L156.5,323.00 Z" fill="#ffbf8a" fill-opacity="0.87"/>
<line x1="33.5" y1="322.50" x2="256.5" y2="322.50" stroke="#ffbf8a" stroke-opacity="0.55" stroke-width="1"/>
<path d="M81.5,346.00 L81.5,345.95 L82.0,345.94 L82.5,345.93 L83.0,345.92 L83.5,345.90 L84.0,345.88 L84.5,345.86 L85.0,345.84 L85.5,345.81 L86.0,345.78 L86.5,345.74 L87.0,345.70 L87.5,345.66 L88.0,345.60 L88.5,345.54 L89.0,345.47 L89.5,345.39 L90.0,345.30 L90.5,345.20 L91.0,345.09 L91.5,344.96 L92.0,344.82 L92.5,344.66 L93.0,344.48 L93.5,344.29 L94.0,344.07 L94.5,343.83 L95.0,343.57 L95.5,343.28 L96.0,342.96 L96.5,342.62 L97.0,342.24 L97.5,341.83 L98.0,341.39 L98.5,340.91 L99.0,340.40 L99.5,339.84 L100.0,339.25 L100.5,338.62 L101.0,337.95 L101.5,337.23 L102.0,336.48 L102.5,335.68 L103.0,334.84 L103.5,333.96 L104.0,333.03 L104.5,332.07 L105.0,331.08 L105.5,330.06 L106.0,329.05 L106.5,327.91 L107.0,326.88 L107.5,325.82 L108.0,324.52 L108.5,323.44 L109.0,322.43 L109.5,320.95 L110.0,319.45 L110.5,318.45 L111.0,317.41 L111.5,316.68 L112.0,315.53 L112.5,314.65 L113.0,313.01 L113.5,311.28 L114.0,310.28 L114.5,310.20 L115.0,309.75 L115.5,309.36 L116.0,309.40 L116.5,308.15 L117.0,306.22 L117.5,305.52 L118.0,306.03 L118.5,305.97 L119.0,305.96 L119.5,306.35 L120.0,305.89 L120.5,305.50 L121.0,305.12 L121.5,305.72 L122.0,304.60 L122.5,304.72 L123.0,304.88 L123.5,305.79 L124.0,305.26 L124.5,305.41 L125.0,305.03 L125.5,304.88 L126.0,304.60 L126.5,304.79 L127.0,305.85 L127.5,305.20 L128.0,304.86 L128.5,305.37 L129.0,307.06 L129.5,307.91 L130.0,307.70 L130.5,308.96 L131.0,309.62 L131.5,310.93 L132.0,310.83 L132.5,311.66 L133.0,312.18 L133.5,313.11 L134.0,314.07 L134.5,314.80 L135.0,316.05 L135.5,316.93 L136.0,317.94 L136.5,318.83 L137.0,319.63 L137.5,320.98 L138.0,321.78 L138.5,322.93 L139.0,324.08 L139.5,324.96 L140.0,325.90 L140.5,326.88 L141.0,327.83 L141.5,328.68 L142.0,329.61 L142.5,330.48 L143.0,331.32 L143.5,332.15 L144.0,332.96 L144.5,333.74 L145.0,334.49 L145.5,335.21 L146.0,335.90 L146.5,336.57 L147.0,337.20 L147.5,337.81 L148.0,338.38 L148.5,338.93 L149.0,339.45 L149.5,339.94 L150.0,340.40 L150.5,340.83 L151.0,341.24 L151.5,341.62 L152.0,341.98 L152.5,342.32 L153.0,342.63 L153.5,342.92 L154.0,343.19 L154.5,343.44 L155.0,343.68 L155.5,343.89 L156.0,344.09 L156.5,344.27 L157.0,344.44 L157.5,344.59 L158.0,344.73 L158.5,344.86 L159.0,344.98 L159.5,345.08 L160.0,345.18 L160.5,345.27 L161.0,345.35 L161.5,345.42 L162.0,345.48 L162.5,345.54 L163.0,345.59 L163.5,345.64 L164.0,345.68 L164.5,345.72 L165.0,345.75 L165.5,345.78 L166.0,345.81 L166.5,345.83 L167.0,345.85 L167.5,345.87 L168.0,345.89 L168.5,345.90 L169.0,345.92 L169.5,345.93 L170.0,345.94 L170.5,345.95 L171.0,345.95 L171.0,346.00 Z" fill="#ff40ff" fill-opacity="0.87"/>
<line x1="33.5" y1="345.50" x2="256.5" y2="345.50" stroke="#ff40ff" stroke-opacity="0.55" stroke-width="1"/>
<path d="M55.5,370.00 L55.5,369.95 L56.0,369.94 L56.5,369.93 L57.0,369.91 L57.5,369.90 L58.0,369.88 L58.5,369.85 L59.0,369.83 L59.5,369.79 L60.0,369.76 L60.5,369.71 L61.0,369.66 L61.5,369.60 L62.0,369.54 L62.5,369.46 L63.0,369.37 L63.5,369.27 L64.0,369.16 L64.5,369.03 L65.0,368.88 L65.5,368.72 L66.0,368.53 L66.5,368.32 L67.0,368.09 L67.5,367.83 L68.0,367.55 L68.5,367.23 L69.0,366.88 L69.5,366.50 L70.0,366.08 L70.5,365.62 L71.0,365.13 L71.5,364.59 L72.0,364.00 L72.5,363.38 L73.0,362.70 L73.5,361.98 L74.0,361.21 L74.5,360.40 L75.0,359.54 L75.5,358.63 L76.0,357.67 L76.5,356.68 L77.0,355.64 L77.5,354.56 L78.0,353.44 L78.5,352.28 L79.0,351.05 L79.5,349.88 L80.0,348.70 L80.5,347.36 L81.0,345.97 L81.5,344.95 L82.0,343.60 L82.5,342.28 L83.0,341.15 L83.5,340.14 L84.0,338.82 L84.5,337.65 L85.0,336.88 L85.5,335.40 L86.0,334.24 L86.5,334.05 L87.0,333.34 L87.5,331.80 L88.0,330.20 L88.5,329.76 L89.0,328.96 L89.5,327.20 L90.0,327.17 L90.5,326.73 L91.0,325.70 L91.5,325.70 L92.0,325.70 L92.5,325.70 L93.0,325.70 L93.5,325.70 L94.0,325.70 L94.5,326.73 L95.0,327.99 L95.5,327.26 L96.0,326.57 L96.5,328.09 L97.0,328.89 L97.5,329.93 L98.0,330.36 L98.5,330.67 L99.0,330.01 L99.5,330.91 L100.0,330.41 L100.5,330.94 L101.0,332.16 L101.5,332.79 L102.0,334.36 L102.5,334.57 L103.0,335.48 L103.5,336.02 L104.0,336.96 L104.5,336.97 L105.0,337.70 L105.5,338.39 L106.0,339.14 L106.5,339.56 L107.0,340.03 L107.5,340.69 L108.0,341.47 L108.5,342.36 L109.0,343.25 L109.5,343.75 L110.0,344.78 L110.5,345.63 L111.0,346.43 L111.5,347.11 L112.0,348.10 L112.5,349.04 L113.0,349.91 L113.5,350.70 L114.0,351.57 L114.5,352.39 L115.0,353.19 L115.5,353.97 L116.0,354.75 L116.5,355.54 L117.0,356.31 L117.5,357.06 L118.0,357.79 L118.5,358.50 L119.0,359.19 L119.5,359.85 L120.0,360.49 L120.5,361.11 L121.0,361.70 L121.5,362.26 L122.0,362.80 L122.5,363.31 L123.0,363.80 L123.5,364.26 L124.0,364.69 L124.5,365.11 L125.0,365.49 L125.5,365.86 L126.0,366.20 L126.5,366.52 L127.0,366.82 L127.5,367.09 L128.0,367.35 L128.5,367.59 L129.0,367.81 L129.5,368.02 L130.0,368.20 L130.5,368.38 L131.0,368.54 L131.5,368.68 L132.0,368.82 L132.5,368.94 L133.0,369.05 L133.5,369.15 L134.0,369.24 L134.5,369.32 L135.0,369.40 L135.5,369.47 L136.0,369.53 L136.5,369.58 L137.0,369.63 L137.5,369.67 L138.0,369.71 L138.5,369.75 L139.0,369.78 L139.5,369.81 L140.0,369.83 L140.5,369.85 L141.0,369.87 L141.5,369.89 L142.0,369.90 L142.5,369.92 L143.0,369.93 L143.5,369.94 L144.0,369.95 L144.5,369.95 L144.5,370.00 Z" fill="#141414" fill-opacity="0.87"/>
<line x1="33.5" y1="369.50" x2="256.5" y2="369.50" stroke="#141414" stroke-opacity="0.55" stroke-width="1"/>
<rect x="33.5" y="39.5" width="223.0" height="334.0" fill="none" stroke="#444" stroke-width="1"/>
<line x1="93.50" y1="39.50" x2="93.50" y2="373.50" stroke="#222" stroke-width="0.9" />
<text x="263.4" y="41" font-size="11" fill="#231f20">Peptides</text>
<text x="266.3" y="54.7" font-size="11" fill="#231f20">(10 μM)</text>
<text x="246.40" y="78.90" font-size="11.5" text-anchor="end" font-weight="normal" fill="#231f20" >259</text>
<text x="265.00" y="78.90" font-size="11.2" text-anchor="start" font-weight="normal" fill="#231f20" >88D10b</text>
<text x="246.40" y="102.90" font-size="11.5" text-anchor="end" font-weight="normal" fill="#231f20" >231</text>
<text x="265.00" y="102.90" font-size="11.2" text-anchor="start" font-weight="normal" fill="#231f20" >88D10a</text>
<text x="246.40" y="126.90" font-size="11.5" text-anchor="end" font-weight="normal" fill="#231f20" >574</text>
<text x="265.00" y="126.90" font-size="11.2" text-anchor="start" font-weight="normal" fill="#231f20" >88D8b</text>
<text x="246.40" y="150.90" font-size="11.5" text-anchor="end" font-weight="normal" fill="#231f20" >681</text>
<text x="265.00" y="150.90" font-size="11.2" text-anchor="start" font-weight="normal" fill="#231f20" >88D8a</text>
<text x="246.40" y="174.90" font-size="11.5" text-anchor="end" font-weight="normal" fill="#231f20" >677</text>
<text x="265.00" y="174.90" font-size="11.2" text-anchor="start" font-weight="normal" fill="#231f20" >88D6</text>
<text x="246.40" y="198.90" font-size="11.5" text-anchor="end" font-weight="normal" fill="#231f20" >672</text>
<text x="265.00" y="198.90" font-size="11.2" text-anchor="start" font-weight="normal" fill="#231f20" >88D4b</text>
<text x="246.40" y="222.90" font-size="11.5" text-anchor="end" font-weight="normal" fill="#231f20" >807</text>
<text x="265.00" y="222.90" font-size="11.2" text-anchor="start" font-weight="normal" fill="#231f20" >88D4a</text>
<text x="246.40" y="246.90" font-size="11.5" text-anchor="end" font-weight="normal" fill="#231f20" >309</text>
<text x="265.00" y="246.90" font-size="11.2" text-anchor="start" font-weight="normal" fill="#231f20" >88D3</text>
<text x="246.40" y="270.90" font-size="11.5" text-anchor="end" font-weight="normal" fill="#231f20" >552</text>
<text x="265.00" y="270.90" font-size="11.2" text-anchor="start" font-weight="normal" fill="#231f20" >88D2c</text>
<text x="246.40" y="294.90" font-size="11.5" text-anchor="end" font-weight="normal" fill="#231f20" >335</text>
<text x="265.00" y="294.90" font-size="11.2" text-anchor="start" font-weight="normal" fill="#231f20" >88D2b</text>
<text x="246.40" y="318.90" font-size="11.5" text-anchor="end" font-weight="normal" fill="#231f20" >532</text>
<text x="265.00" y="318.90" font-size="11.2" text-anchor="start" font-weight="normal" fill="#231f20" >88D2a</text>
<text x="246.40" y="342.90" font-size="11.5" text-anchor="end" font-weight="normal" fill="#231f20" >847</text>
<text x="265.00" y="342.90" font-size="10.3" text-anchor="start" font-weight="normal" fill="#231f20" >SIINFEKL</text>
<text x="246.40" y="366.90" font-size="11.5" text-anchor="end" font-weight="normal" fill="#231f20" >299</text>
<text x="265.00" y="366.90" font-size="11.6" text-anchor="start" font-weight="normal" fill="#231f20" >No peptide</text>
<text transform="translate(28.3,205.2) rotate(-90)" font-size="11" text-anchor="middle" fill="#231f20">Counts</text>
<line x1="39.50" y1="373.50" x2="39.50" y2="376.50" stroke="#333" stroke-width="0.9" />
<line x1="44.50" y1="373.50" x2="44.50" y2="376.50" stroke="#333" stroke-width="0.9" />
<line x1="48.50" y1="373.50" x2="48.50" y2="376.50" stroke="#333" stroke-width="0.9" />
<line x1="52.50" y1="373.50" x2="52.50" y2="376.50" stroke="#333" stroke-width="0.9" />
<line x1="57.50" y1="373.50" x2="57.50" y2="376.50" stroke="#333" stroke-width="0.9" />
<line x1="89.50" y1="373.50" x2="89.50" y2="376.50" stroke="#333" stroke-width="0.9" />
<line x1="101.50" y1="373.50" x2="101.50" y2="376.50" stroke="#333" stroke-width="0.9" />
<line x1="104.50" y1="373.50" x2="104.50" y2="376.50" stroke="#333" stroke-width="0.9" />
<line x1="108.50" y1="373.50" x2="108.50" y2="376.50" stroke="#333" stroke-width="0.9" />
<line x1="112.50" y1="373.50" x2="112.50" y2="376.50" stroke="#333" stroke-width="0.9" />
<line x1="115.50" y1="373.50" x2="115.50" y2="376.50" stroke="#333" stroke-width="0.9" />
<line x1="118.50" y1="373.50" x2="118.50" y2="376.50" stroke="#333" stroke-width="0.9" />
<line x1="121.50" y1="373.50" x2="121.50" y2="376.50" stroke="#333" stroke-width="0.9" />
<line x1="123.50" y1="373.50" x2="123.50" y2="376.50" stroke="#333" stroke-width="0.9" />
<rect x="65.50" y="374.00" width="16.10" height="2.5" fill="#9a9a9a"/>
<line x1="65.50" y1="373.50" x2="65.50" y2="378.80" stroke="#444" stroke-width="0.9" />
<line x1="81.50" y1="373.50" x2="81.50" y2="378.80" stroke="#444" stroke-width="0.9" />
<rect x="72.20" y="374.00" width="2.4" height="4.5" fill="#111"/>
<line x1="142.50" y1="373.50" x2="142.50" y2="376.50" stroke="#333" stroke-width="0.9" />
<line x1="152.50" y1="373.50" x2="152.50" y2="376.50" stroke="#333" stroke-width="0.9" />
<line x1="159.50" y1="373.50" x2="159.50" y2="376.50" stroke="#333" stroke-width="0.9" />
<line x1="164.50" y1="373.50" x2="164.50" y2="376.50" stroke="#333" stroke-width="0.9" />
<line x1="168.50" y1="373.50" x2="168.50" y2="376.50" stroke="#333" stroke-width="0.9" />
<line x1="172.50" y1="373.50" x2="172.50" y2="376.50" stroke="#333" stroke-width="0.9" />
<line x1="175.50" y1="373.50" x2="175.50" y2="376.50" stroke="#333" stroke-width="0.9" />
<line x1="178.50" y1="373.50" x2="178.50" y2="376.50" stroke="#333" stroke-width="0.9" />
<line x1="199.50" y1="373.50" x2="199.50" y2="376.50" stroke="#333" stroke-width="0.9" />
<line x1="208.50" y1="373.50" x2="208.50" y2="376.50" stroke="#333" stroke-width="0.9" />
<line x1="215.50" y1="373.50" x2="215.50" y2="376.50" stroke="#333" stroke-width="0.9" />
<line x1="220.50" y1="373.50" x2="220.50" y2="376.50" stroke="#333" stroke-width="0.9" />
<line x1="224.50" y1="373.50" x2="224.50" y2="376.50" stroke="#333" stroke-width="0.9" />
<line x1="228.50" y1="373.50" x2="228.50" y2="376.50" stroke="#333" stroke-width="0.9" />
<line x1="231.50" y1="373.50" x2="231.50" y2="376.50" stroke="#333" stroke-width="0.9" />
<line x1="234.50" y1="373.50" x2="234.50" y2="376.50" stroke="#333" stroke-width="0.9" />
<line x1="251.50" y1="373.50" x2="251.50" y2="376.50" stroke="#333" stroke-width="0.9" />
<line x1="126.50" y1="373.50" x2="126.50" y2="379.00" stroke="#222" stroke-width="1" />
<line x1="182.50" y1="373.50" x2="182.50" y2="379.00" stroke="#222" stroke-width="1" />
<line x1="234.50" y1="373.50" x2="234.50" y2="379.00" stroke="#222" stroke-width="1" />
<text x="73.40" y="391.80" font-size="9.5" text-anchor="middle" font-weight="normal" fill="#231f20" >0</text>
<text x="127.50" y="391.80" font-size="9.5" text-anchor="middle" fill="#231f20">10<tspan font-size="6.6" dy="-4">3</tspan></text>
<text x="183.50" y="391.80" font-size="9.5" text-anchor="middle" fill="#231f20">10<tspan font-size="6.6" dy="-4">4</tspan></text>
<text x="235.50" y="391.80" font-size="9.5" text-anchor="middle" fill="#231f20">10<tspan font-size="6.6" dy="-4">5</tspan></text>
<text x="485.40" y="8.20" font-size="11.4" text-anchor="middle" font-weight="normal" fill="#231f20" >HK95 mAb</text>
<text x="444.73" y="21.50" font-size="11.4" fill="#231f20">(H-2D</text>
<text x="475.13" y="17.20" font-size="7.8" fill="#231f20">b</text>
<text x="479.47" y="21.50" font-size="11.4" fill="#231f20">-specific)</text>
<path d="M383.0,100.00 L383.0,99.78 L383.5,99.77 L384.0,99.75 L384.5,99.74 L385.0,99.72 L385.5,99.70 L386.0,99.68 L386.5,99.66 L387.0,99.63 L387.5,99.61 L388.0,99.58 L388.5,99.55 L389.0,99.52 L389.5,99.49 L390.0,99.45 L390.5,99.41 L391.0,99.37 L391.5,99.33 L392.0,99.28 L392.5,99.24 L393.0,99.18 L393.5,99.13 L394.0,99.07 L394.5,99.00 L395.0,98.94 L395.5,98.86 L396.0,98.79 L396.5,98.70 L397.0,98.61 L397.5,98.52 L398.0,98.42 L398.5,98.31 L399.0,98.20 L399.5,98.08 L400.0,97.94 L400.5,97.81 L401.0,97.66 L401.5,97.50 L402.0,97.33 L402.5,97.15 L403.0,96.96 L403.5,96.76 L404.0,96.54 L404.5,96.31 L405.0,96.06 L405.5,95.80 L406.0,95.52 L406.5,95.22 L407.0,94.91 L407.5,94.57 L408.0,94.22 L408.5,93.84 L409.0,93.44 L409.5,93.01 L410.0,92.56 L410.5,92.08 L411.0,91.58 L411.5,91.04 L412.0,90.47 L412.5,89.87 L413.0,89.24 L413.5,88.57 L414.0,87.86 L414.5,87.12 L415.0,86.34 L415.5,85.52 L416.0,84.65 L416.5,83.74 L417.0,82.79 L417.5,81.80 L418.0,80.76 L418.5,79.68 L419.0,78.55 L419.5,77.34 L420.0,76.08 L420.5,74.82 L421.0,73.43 L421.5,71.99 L422.0,70.76 L422.5,69.51 L423.0,68.00 L423.5,66.73 L424.0,65.41 L424.5,63.60 L425.0,61.63 L425.5,60.62 L426.0,58.69 L426.5,56.99 L427.0,54.88 L427.5,53.32 L428.0,51.79 L428.5,50.79 L429.0,50.09 L429.5,49.75 L430.0,47.52 L430.5,45.00 L431.0,43.93 L431.5,42.61 L432.0,41.99 L432.5,40.03 L433.0,39.91 L433.5,40.53 L434.0,41.52 L434.5,40.11 L435.0,39.00 L435.5,39.87 L436.0,40.89 L436.5,39.85 L437.0,40.52 L437.5,39.39 L438.0,41.00 L438.5,42.07 L439.0,41.59 L439.5,43.40 L440.0,41.75 L440.5,41.12 L441.0,41.52 L441.5,42.24 L442.0,42.33 L442.5,42.60 L443.0,44.43 L443.5,45.18 L444.0,45.83 L444.5,48.14 L445.0,48.39 L445.5,50.10 L446.0,50.55 L446.5,51.23 L447.0,53.69 L447.5,55.67 L448.0,56.60 L448.5,57.93 L449.0,58.61 L449.5,59.35 L450.0,61.21 L450.5,62.74 L451.0,63.85 L451.5,64.87 L452.0,66.26 L452.5,67.67 L453.0,68.69 L453.5,70.06 L454.0,71.18 L454.5,72.27 L455.0,73.38 L455.5,74.55 L456.0,75.65 L456.5,76.74 L457.0,77.77 L457.5,78.78 L458.0,79.79 L458.5,80.78 L459.0,81.74 L459.5,82.67 L460.0,83.57 L460.5,84.45 L461.0,85.29 L461.5,86.10 L462.0,86.88 L462.5,87.63 L463.0,88.36 L463.5,89.05 L464.0,89.71 L464.5,90.34 L465.0,90.95 L465.5,91.52 L466.0,92.07 L466.5,92.59 L467.0,93.08 L467.5,93.55 L468.0,93.99 L468.5,94.41 L469.0,94.81 L469.5,95.18 L470.0,95.53 L470.5,95.86 L471.0,96.17 L471.5,96.46 L472.0,96.74 L472.5,96.99 L473.0,97.23 L473.5,97.45 L474.0,97.66 L474.5,97.85 L475.0,98.03 L475.5,98.19 L476.0,98.35 L476.5,98.49 L477.0,98.62 L477.5,98.74 L478.0,98.86 L478.5,98.96 L479.0,99.05 L479.5,99.14 L480.0,99.22 L480.5,99.29 L481.0,99.36 L481.5,99.42 L482.0,99.48 L482.5,99.53 L483.0,99.58 L483.5,99.62 L484.0,99.66 L484.5,99.69 L485.0,99.72 L485.5,99.75 L486.0,99.78 L486.5,99.80 L487.0,99.82 L487.5,99.84 L488.0,99.86 L488.5,99.88 L489.0,99.89 L489.5,99.90 L490.0,99.91 L490.5,99.92 L491.0,99.93 L491.5,99.94 L492.0,99.95 L492.5,99.95 L492.5,100.00 Z" fill="#1f80dc" fill-opacity="0.88"/>
<line x1="382.5" y1="99.50" x2="585.5" y2="99.50" stroke="#1f80dc" stroke-opacity="0.55" stroke-width="1"/>
<path d="M383.0,133.00 L383.0,132.50 L383.5,132.46 L384.0,132.42 L384.5,132.38 L385.0,132.34 L385.5,132.29 L386.0,132.24 L386.5,132.19 L387.0,132.14 L387.5,132.09 L388.0,132.03 L388.5,131.97 L389.0,131.90 L389.5,131.84 L390.0,131.77 L390.5,131.69 L391.0,131.62 L391.5,131.54 L392.0,131.46 L392.5,131.38 L393.0,131.29 L393.5,131.20 L394.0,131.11 L394.5,131.01 L395.0,130.91 L395.5,130.80 L396.0,130.70 L396.5,130.58 L397.0,130.47 L397.5,130.35 L398.0,130.23 L398.5,130.10 L399.0,129.97 L399.5,129.83 L400.0,129.69 L400.5,129.54 L401.0,129.39 L401.5,129.23 L402.0,129.06 L402.5,128.89 L403.0,128.71 L403.5,128.52 L404.0,128.32 L404.5,128.12 L405.0,127.90 L405.5,127.67 L406.0,127.43 L406.5,127.18 L407.0,126.92 L407.5,126.64 L408.0,126.34 L408.5,126.03 L409.0,125.70 L409.5,125.36 L410.0,124.99 L410.5,124.60 L411.0,124.19 L411.5,123.75 L412.0,123.29 L412.5,122.80 L413.0,122.28 L413.5,121.74 L414.0,121.16 L414.5,120.55 L415.0,119.91 L415.5,119.24 L416.0,118.54 L416.5,117.81 L417.0,117.05 L417.5,116.26 L418.0,115.43 L418.5,114.58 L419.0,113.69 L419.5,112.76 L420.0,111.81 L420.5,110.82 L421.0,109.76 L421.5,108.69 L422.0,107.54 L422.5,106.35 L423.0,105.30 L423.5,104.01 L424.0,102.67 L424.5,101.53 L425.0,100.53 L425.5,99.23 L426.0,97.66 L426.5,96.66 L427.0,95.05 L427.5,93.40 L428.0,92.54 L428.5,91.16 L429.0,90.30 L429.5,88.30 L430.0,86.76 L430.5,84.84 L431.0,84.14 L431.5,82.29 L432.0,80.52 L432.5,80.79 L433.0,78.64 L433.5,78.61 L434.0,78.87 L434.5,76.92 L435.0,77.41 L435.5,75.14 L436.0,74.70 L436.5,74.56 L437.0,73.55 L437.5,74.51 L438.0,74.63 L438.5,72.90 L439.0,72.00 L439.5,72.00 L440.0,73.19 L440.5,74.00 L441.0,74.40 L441.5,73.50 L442.0,74.29 L442.5,73.32 L443.0,73.50 L443.5,72.00 L444.0,72.00 L444.5,72.00 L445.0,72.00 L445.5,72.34 L446.0,72.00 L446.5,72.00 L447.0,72.00 L447.5,72.00 L448.0,72.00 L448.5,72.88 L449.0,72.12 L449.5,73.37 L450.0,74.63 L450.5,76.94 L451.0,76.58 L451.5,78.34 L452.0,79.11 L452.5,80.09 L453.0,80.91 L453.5,81.09 L454.0,82.67 L454.5,84.04 L455.0,84.96 L455.5,86.07 L456.0,87.11 L456.5,89.42 L457.0,90.61 L457.5,91.46 L458.0,93.32 L458.5,95.08 L459.0,96.63 L459.5,98.01 L460.0,99.44 L460.5,100.77 L461.0,102.13 L461.5,103.49 L462.0,104.67 L462.5,105.94 L463.0,107.29 L463.5,108.53 L464.0,109.70 L464.5,110.92 L465.0,112.11 L465.5,113.27 L466.0,114.39 L466.5,115.47 L467.0,116.51 L467.5,117.52 L468.0,118.48 L468.5,119.41 L469.0,120.29 L469.5,121.14 L470.0,121.94 L470.5,122.71 L471.0,123.43 L471.5,124.12 L472.0,124.77 L472.5,125.39 L473.0,125.97 L473.5,126.51 L474.0,127.02 L474.5,127.50 L475.0,127.95 L475.5,128.37 L476.0,128.76 L476.5,129.12 L477.0,129.46 L477.5,129.77 L478.0,130.06 L478.5,130.33 L479.0,130.58 L479.5,130.80 L480.0,131.01 L480.5,131.20 L481.0,131.38 L481.5,131.54 L482.0,131.69 L482.5,131.82 L483.0,131.94 L483.5,132.05 L484.0,132.15 L484.5,132.24 L485.0,132.32 L485.5,132.40 L486.0,132.47 L486.5,132.53 L487.0,132.58 L487.5,132.63 L488.0,132.67 L488.5,132.71 L489.0,132.74 L489.5,132.77 L490.0,132.80 L490.5,132.83 L491.0,132.85 L491.5,132.87 L492.0,132.88 L492.5,132.90 L493.0,132.91 L493.5,132.92 L494.0,132.93 L494.5,132.94 L495.0,132.95 L495.0,133.00 Z" fill="#1d36dc" fill-opacity="0.88"/>
<line x1="382.5" y1="132.50" x2="585.5" y2="132.50" stroke="#1d36dc" stroke-opacity="0.55" stroke-width="1"/>
<path d="M383.0,166.00 L383.0,165.05 L383.5,164.98 L384.0,164.91 L384.5,164.83 L385.0,164.75 L385.5,164.66 L386.0,164.57 L386.5,164.47 L387.0,164.36 L387.5,164.25 L388.0,164.13 L388.5,164.00 L389.0,163.87 L389.5,163.72 L390.0,163.57 L390.5,163.41 L391.0,163.24 L391.5,163.06 L392.0,162.87 L392.5,162.67 L393.0,162.46 L393.5,162.24 L394.0,162.00 L394.5,161.76 L395.0,161.50 L395.5,161.24 L396.0,160.96 L396.5,160.67 L397.0,160.37 L397.5,160.05 L398.0,159.73 L398.5,159.40 L399.0,159.05 L399.5,158.70 L400.0,158.33 L400.5,157.96 L401.0,157.58 L401.5,157.19 L402.0,156.79 L402.5,156.39 L403.0,155.98 L403.5,155.57 L404.0,155.15 L404.5,154.72 L405.0,154.29 L405.5,153.85 L406.0,153.41 L406.5,152.95 L407.0,152.48 L407.5,152.00 L408.0,151.50 L408.5,150.98 L409.0,150.43 L409.5,149.85 L410.0,149.22 L410.5,148.57 L411.0,147.88 L411.5,147.15 L412.0,146.37 L412.5,145.52 L413.0,144.59 L413.5,143.54 L414.0,142.36 L414.5,141.13 L415.0,139.78 L415.5,138.30 L416.0,136.58 L416.5,134.86 L417.0,132.76 L417.5,130.62 L418.0,128.21 L418.5,125.67 L419.0,122.76 L419.5,119.39 L420.0,116.89 L420.5,114.55 L421.0,113.13 L421.5,109.66 L422.0,106.67 L422.5,105.00 L423.0,105.00 L423.5,105.00 L424.0,105.00 L424.5,105.00 L425.0,105.00 L425.5,106.19 L426.0,106.85 L426.5,109.14 L427.0,112.48 L427.5,114.95 L428.0,116.91 L428.5,120.06 L429.0,123.64 L429.5,126.77 L430.0,129.35 L430.5,132.30 L431.0,135.02 L431.5,137.58 L432.0,139.94 L432.5,142.27 L433.0,144.52 L433.5,146.59 L434.0,148.51 L434.5,150.27 L435.0,151.88 L435.5,153.35 L436.0,154.68 L436.5,155.89 L437.0,156.98 L437.5,157.97 L438.0,158.85 L438.5,159.64 L439.0,160.35 L439.5,160.98 L440.0,161.55 L440.5,162.05 L441.0,162.50 L441.5,162.90 L442.0,163.25 L442.5,163.57 L443.0,163.85 L443.5,164.09 L444.0,164.31 L444.5,164.51 L445.0,164.68 L445.5,164.83 L446.0,164.97 L446.5,165.09 L447.0,165.19 L447.5,165.29 L448.0,165.37 L448.5,165.44 L449.0,165.51 L449.5,165.56 L450.0,165.62 L450.5,165.66 L451.0,165.70 L451.5,165.73 L452.0,165.77 L452.5,165.79 L453.0,165.82 L453.5,165.84 L454.0,165.86 L454.5,165.87 L455.0,165.89 L455.5,165.90 L456.0,165.91 L456.5,165.92 L457.0,165.93 L457.5,165.94 L458.0,165.95 L458.5,165.95 L458.5,166.00 Z" fill="#ff8e8e" fill-opacity="0.88"/>
<line x1="382.5" y1="165.50" x2="585.5" y2="165.50" stroke="#ff8e8e" stroke-opacity="0.55" stroke-width="1"/>
<path d="M383.0,199.00 L383.0,198.67 L383.5,198.64 L384.0,198.61 L384.5,198.59 L385.0,198.56 L385.5,198.53 L386.0,198.49 L386.5,198.46 L387.0,198.42 L387.5,198.38 L388.0,198.34 L388.5,198.30 L389.0,198.25 L389.5,198.21 L390.0,198.16 L390.5,198.11 L391.0,198.05 L391.5,198.00 L392.0,197.94 L392.5,197.88 L393.0,197.82 L393.5,197.75 L394.0,197.68 L394.5,197.61 L395.0,197.53 L395.5,197.46 L396.0,197.38 L396.5,197.29 L397.0,197.21 L397.5,197.12 L398.0,197.02 L398.5,196.92 L399.0,196.82 L399.5,196.72 L400.0,196.61 L400.5,196.50 L401.0,196.38 L401.5,196.25 L402.0,196.12 L402.5,195.99 L403.0,195.85 L403.5,195.70 L404.0,195.55 L404.5,195.38 L405.0,195.21 L405.5,195.03 L406.0,194.84 L406.5,194.64 L407.0,194.43 L407.5,194.21 L408.0,193.97 L408.5,193.72 L409.0,193.45 L409.5,193.17 L410.0,192.87 L410.5,192.55 L411.0,192.21 L411.5,191.85 L412.0,191.47 L412.5,191.06 L413.0,190.63 L413.5,190.17 L414.0,189.68 L414.5,189.16 L415.0,188.61 L415.5,188.03 L416.0,187.41 L416.5,186.76 L417.0,186.06 L417.5,185.34 L418.0,184.57 L418.5,183.76 L419.0,182.91 L419.5,182.02 L420.0,181.09 L420.5,180.12 L421.0,179.11 L421.5,178.07 L422.0,176.99 L422.5,175.89 L423.0,174.70 L423.5,173.52 L424.0,172.29 L424.5,171.11 L425.0,169.88 L425.5,168.57 L426.0,167.36 L426.5,165.75 L427.0,164.69 L427.5,163.30 L428.0,162.06 L428.5,160.68 L429.0,159.18 L429.5,158.15 L430.0,156.58 L430.5,155.17 L431.0,153.83 L431.5,151.96 L432.0,149.96 L432.5,149.77 L433.0,148.11 L433.5,148.06 L434.0,147.35 L434.5,147.29 L435.0,146.91 L435.5,144.82 L436.0,142.57 L436.5,143.19 L437.0,140.92 L437.5,138.87 L438.0,138.00 L438.5,138.00 L439.0,138.53 L439.5,138.79 L440.0,139.32 L440.5,138.00 L441.0,138.00 L441.5,138.00 L442.0,138.00 L442.5,138.00 L443.0,138.00 L443.5,138.00 L444.0,138.00 L444.5,138.00 L445.0,138.00 L445.5,138.00 L446.0,139.01 L446.5,138.32 L447.0,138.31 L447.5,138.00 L448.0,138.00 L448.5,138.00 L449.0,138.00 L449.5,139.45 L450.0,138.11 L450.5,139.50 L451.0,139.10 L451.5,139.20 L452.0,138.67 L452.5,140.09 L453.0,141.44 L453.5,141.48 L454.0,142.52 L454.5,142.61 L455.0,144.67 L455.5,146.48 L456.0,147.10 L456.5,147.47 L457.0,148.19 L457.5,149.05 L458.0,150.17 L458.5,150.93 L459.0,153.33 L459.5,154.75 L460.0,156.77 L460.5,157.76 L461.0,159.07 L461.5,160.33 L462.0,161.87 L462.5,163.46 L463.0,164.79 L463.5,166.27 L464.0,167.85 L464.5,169.40 L465.0,170.86 L465.5,172.36 L466.0,173.73 L466.5,175.07 L467.0,176.33 L467.5,177.56 L468.0,178.78 L468.5,179.96 L469.0,181.09 L469.5,182.19 L470.0,183.24 L470.5,184.26 L471.0,185.23 L471.5,186.15 L472.0,187.03 L472.5,187.87 L473.0,188.67 L473.5,189.43 L474.0,190.14 L474.5,190.82 L475.0,191.45 L475.5,192.05 L476.0,192.61 L476.5,193.13 L477.0,193.62 L477.5,194.08 L478.0,194.51 L478.5,194.90 L479.0,195.27 L479.5,195.61 L480.0,195.92 L480.5,196.21 L481.0,196.47 L481.5,196.72 L482.0,196.94 L482.5,197.15 L483.0,197.33 L483.5,197.50 L484.0,197.66 L484.5,197.80 L485.0,197.93 L485.5,198.04 L486.0,198.15 L486.5,198.24 L487.0,198.33 L487.5,198.40 L488.0,198.47 L488.5,198.53 L489.0,198.59 L489.5,198.64 L490.0,198.68 L490.5,198.72 L491.0,198.76 L491.5,198.79 L492.0,198.81 L492.5,198.84 L493.0,198.86 L493.5,198.88 L494.0,198.89 L494.5,198.91 L495.0,198.92 L495.5,198.93 L496.0,198.94 L496.5,198.95 L497.0,198.96 L497.0,199.00 Z" fill="#dd4422" fill-opacity="0.88"/>
<line x1="382.5" y1="198.50" x2="585.5" y2="198.50" stroke="#dd4422" stroke-opacity="0.55" stroke-width="1"/>
<path d="M383.0,231.00 L383.0,230.77 L383.5,230.75 L384.0,230.71 L384.5,230.68 L385.0,230.64 L385.5,230.60 L386.0,230.56 L386.5,230.51 L387.0,230.46 L387.5,230.40 L388.0,230.33 L388.5,230.26 L389.0,230.18 L389.5,230.10 L390.0,230.01 L390.5,229.91 L391.0,229.80 L391.5,229.69 L392.0,229.56 L392.5,229.43 L393.0,229.29 L393.5,229.13 L394.0,228.97 L394.5,228.79 L395.0,228.60 L395.5,228.39 L396.0,228.18 L396.5,227.95 L397.0,227.70 L397.5,227.45 L398.0,227.17 L398.5,226.88 L399.0,226.58 L399.5,226.26 L400.0,225.92 L400.5,225.56 L401.0,225.19 L401.5,224.81 L402.0,224.40 L402.5,223.98 L403.0,223.54 L403.5,223.09 L404.0,222.62 L404.5,222.13 L405.0,221.63 L405.5,221.11 L406.0,220.58 L406.5,220.04 L407.0,219.48 L407.5,218.91 L408.0,218.32 L408.5,217.72 L409.0,217.11 L409.5,216.49 L410.0,215.85 L410.5,215.19 L411.0,214.52 L411.5,213.81 L412.0,213.08 L412.5,212.30 L413.0,211.48 L413.5,210.59 L414.0,209.62 L414.5,208.54 L415.0,207.35 L415.5,206.02 L416.0,204.58 L416.5,203.11 L417.0,201.33 L417.5,199.59 L418.0,197.16 L418.5,194.68 L419.0,191.79 L419.5,189.15 L420.0,186.01 L420.5,184.23 L421.0,181.03 L421.5,177.78 L422.0,176.33 L422.5,173.59 L423.0,171.00 L423.5,170.00 L424.0,170.00 L424.5,170.00 L425.0,170.00 L425.5,170.00 L426.0,170.00 L426.5,170.62 L427.0,172.06 L427.5,175.96 L428.0,178.81 L428.5,180.82 L429.0,182.57 L429.5,185.60 L430.0,188.13 L430.5,190.80 L431.0,193.91 L431.5,196.55 L432.0,198.75 L432.5,201.09 L433.0,203.13 L433.5,205.05 L434.0,206.88 L434.5,208.45 L435.0,209.89 L435.5,211.20 L436.0,212.39 L436.5,213.49 L437.0,214.50 L437.5,215.45 L438.0,216.33 L438.5,217.16 L439.0,217.95 L439.5,218.70 L440.0,219.42 L440.5,220.11 L441.0,220.77 L441.5,221.40 L442.0,222.00 L442.5,222.58 L443.0,223.14 L443.5,223.67 L444.0,224.18 L444.5,224.67 L445.0,225.13 L445.5,225.56 L446.0,225.98 L446.5,226.37 L447.0,226.74 L447.5,227.08 L448.0,227.41 L448.5,227.71 L449.0,228.00 L449.5,228.26 L450.0,228.51 L450.5,228.74 L451.0,228.95 L451.5,229.15 L452.0,229.32 L452.5,229.49 L453.0,229.64 L453.5,229.78 L454.0,229.91 L454.5,230.02 L455.0,230.13 L455.5,230.22 L456.0,230.31 L456.5,230.39 L457.0,230.46 L457.5,230.52 L458.0,230.57 L458.5,230.62 L459.0,230.67 L459.5,230.71 L460.0,230.75 L460.5,230.78 L461.0,230.81 L461.5,230.83 L462.0,230.85 L462.5,230.87 L463.0,230.89 L463.5,230.90 L464.0,230.92 L464.5,230.93 L465.0,230.94 L465.5,230.95 L466.0,230.96 L466.0,231.00 Z" fill="#141414" fill-opacity="0.88"/>
<line x1="382.5" y1="230.50" x2="585.5" y2="230.50" stroke="#141414" stroke-opacity="0.55" stroke-width="1"/>
<rect x="382.5" y="28.5" width="203.0" height="202.0" fill="none" stroke="#444" stroke-width="1"/>
<line x1="425.50" y1="28.50" x2="425.50" y2="230.50" stroke="#222" stroke-width="0.9" />
<text x="591.6" y="37.9" font-size="11" fill="#231f20">Peptides</text>
<text x="593.9" y="50.2" font-size="11" fill="#231f20">(10 μM)</text>
<text x="581.40" y="83.20" font-size="11.5" text-anchor="end" font-weight="normal" fill="#231f20" >274</text>
<text x="594.40" y="83.20" font-size="10.8" text-anchor="start" font-weight="normal" fill="#231f20" >88D12b</text>
<text x="581.40" y="117.60" font-size="11.5" text-anchor="end" font-weight="normal" fill="#231f20" >387</text>
<text x="594.40" y="117.60" font-size="10.8" text-anchor="start" font-weight="normal" fill="#231f20" >88D12a</text>
<text x="581.40" y="152.90" font-size="11.5" text-anchor="end" font-weight="normal" fill="#231f20" >86</text>
<text x="594.40" y="152.90" font-size="11.4" text-anchor="start" font-weight="normal" fill="#231f20" >WT spectrin</text>
<text x="581.40" y="188.20" font-size="11.5" text-anchor="end" font-weight="normal" fill="#231f20" >408</text>
<text x="594.40" y="188.20" font-size="11.6" text-anchor="start" font-weight="normal" fill="#231f20" >Mut spectrin</text>
<text x="581.40" y="223.50" font-size="11.5" text-anchor="end" font-weight="normal" fill="#231f20" >79</text>
<text x="594.40" y="223.50" font-size="11.6" text-anchor="start" font-weight="normal" fill="#231f20" >No peptide</text>
<text transform="translate(376.5,131) rotate(-90)" font-size="11" text-anchor="middle" fill="#231f20">Counts</text>
<line x1="387.50" y1="230.50" x2="387.50" y2="233.50" stroke="#333" stroke-width="0.9" />
<line x1="393.50" y1="230.50" x2="393.50" y2="233.50" stroke="#333" stroke-width="0.9" />
<line x1="398.50" y1="230.50" x2="398.50" y2="233.50" stroke="#333" stroke-width="0.9" />
<line x1="404.50" y1="230.50" x2="404.50" y2="233.50" stroke="#333" stroke-width="0.9" />
<line x1="433.50" y1="230.50" x2="433.50" y2="233.50" stroke="#333" stroke-width="0.9" />
<line x1="439.50" y1="230.50" x2="439.50" y2="233.50" stroke="#333" stroke-width="0.9" />
<line x1="445.50" y1="230.50" x2="445.50" y2="233.50" stroke="#333" stroke-width="0.9" />
<line x1="451.50" y1="230.50" x2="451.50" y2="233.50" stroke="#333" stroke-width="0.9" />
<line x1="454.50" y1="230.50" x2="454.50" y2="233.50" stroke="#333" stroke-width="0.9" />
<line x1="458.50" y1="230.50" x2="458.50" y2="233.50" stroke="#333" stroke-width="0.9" />
<line x1="460.50" y1="230.50" x2="460.50" y2="233.50" stroke="#333" stroke-width="0.9" />
<line x1="463.50" y1="230.50" x2="463.50" y2="233.50" stroke="#333" stroke-width="0.9" />
<line x1="465.50" y1="230.50" x2="465.50" y2="233.50" stroke="#333" stroke-width="0.9" />
<rect x="411.50" y="231.00" width="14.50" height="2.5" fill="#9a9a9a"/>
<line x1="411.50" y1="230.50" x2="411.50" y2="235.80" stroke="#444" stroke-width="0.9" />
<line x1="426.50" y1="230.50" x2="426.50" y2="235.80" stroke="#444" stroke-width="0.9" />
<rect x="417.60" y="231.00" width="2.4" height="4.5" fill="#111"/>
<line x1="482.50" y1="230.50" x2="482.50" y2="233.50" stroke="#333" stroke-width="0.9" />
<line x1="491.50" y1="230.50" x2="491.50" y2="233.50" stroke="#333" stroke-width="0.9" />
<line x1="497.50" y1="230.50" x2="497.50" y2="233.50" stroke="#333" stroke-width="0.9" />
<line x1="502.50" y1="230.50" x2="502.50" y2="233.50" stroke="#333" stroke-width="0.9" />
<line x1="506.50" y1="230.50" x2="506.50" y2="233.50" stroke="#333" stroke-width="0.9" />
<line x1="509.50" y1="230.50" x2="509.50" y2="233.50" stroke="#333" stroke-width="0.9" />
<line x1="512.50" y1="230.50" x2="512.50" y2="233.50" stroke="#333" stroke-width="0.9" />
<line x1="514.50" y1="230.50" x2="514.50" y2="233.50" stroke="#333" stroke-width="0.9" />
<line x1="533.50" y1="230.50" x2="533.50" y2="233.50" stroke="#333" stroke-width="0.9" />
<line x1="542.50" y1="230.50" x2="542.50" y2="233.50" stroke="#333" stroke-width="0.9" />
<line x1="548.50" y1="230.50" x2="548.50" y2="233.50" stroke="#333" stroke-width="0.9" />
<line x1="553.50" y1="230.50" x2="553.50" y2="233.50" stroke="#333" stroke-width="0.9" />
<line x1="557.50" y1="230.50" x2="557.50" y2="233.50" stroke="#333" stroke-width="0.9" />
<line x1="560.50" y1="230.50" x2="560.50" y2="233.50" stroke="#333" stroke-width="0.9" />
<line x1="563.50" y1="230.50" x2="563.50" y2="233.50" stroke="#333" stroke-width="0.9" />
<line x1="566.50" y1="230.50" x2="566.50" y2="233.50" stroke="#333" stroke-width="0.9" />
<line x1="580.50" y1="230.50" x2="580.50" y2="233.50" stroke="#333" stroke-width="0.9" />
<line x1="467.50" y1="230.50" x2="467.50" y2="236.00" stroke="#222" stroke-width="1" />
<line x1="518.50" y1="230.50" x2="518.50" y2="236.00" stroke="#222" stroke-width="1" />
<line x1="565.50" y1="230.50" x2="565.50" y2="236.00" stroke="#222" stroke-width="1" />
<text x="419.30" y="250.60" font-size="9.5" text-anchor="middle" font-weight="normal" fill="#231f20" >0</text>
<text x="469.00" y="250.60" font-size="9.5" text-anchor="middle" fill="#231f20">10<tspan font-size="6.6" dy="-4">3</tspan></text>
<text x="519.50" y="250.60" font-size="9.5" text-anchor="middle" fill="#231f20">10<tspan font-size="6.6" dy="-4">4</tspan></text>
<text x="566.50" y="250.60" font-size="9.5" text-anchor="middle" fill="#231f20">10<tspan font-size="6.6" dy="-4">5</tspan></text>
<text x="366.00" y="269.80" font-size="17.5" text-anchor="start" font-weight="bold" fill="#000" >b</text>
<line x1="398.50" y1="266.60" x2="398.50" y2="394.70" stroke="#9a9a9a" stroke-width="1" />
<line x1="398.10" y1="394.50" x2="660.00" y2="394.50" stroke="#8a8a8a" stroke-width="1" />
<line x1="394.10" y1="394.50" x2="398.10" y2="394.50" stroke="#555" stroke-width="0.9" />
<line x1="395.60" y1="378.50" x2="398.10" y2="378.50" stroke="#555" stroke-width="0.9" />
<line x1="394.10" y1="362.50" x2="398.10" y2="362.50" stroke="#555" stroke-width="0.9" />
<line x1="395.60" y1="346.50" x2="398.10" y2="346.50" stroke="#555" stroke-width="0.9" />
<line x1="394.10" y1="330.50" x2="398.10" y2="330.50" stroke="#555" stroke-width="0.9" />
<line x1="395.60" y1="314.50" x2="398.10" y2="314.50" stroke="#555" stroke-width="0.9" />
<line x1="394.10" y1="299.50" x2="398.10" y2="299.50" stroke="#555" stroke-width="0.9" />
<line x1="395.60" y1="283.50" x2="398.10" y2="283.50" stroke="#555" stroke-width="0.9" />
<line x1="394.10" y1="267.50" x2="398.10" y2="267.50" stroke="#555" stroke-width="0.9" />
<text x="390.05" y="398.10" font-size="9.5" text-anchor="end" font-weight="normal" fill="#231f20" letter-spacing="0.55" >0</text>
<text x="390.05" y="366.20" font-size="9.5" text-anchor="end" font-weight="normal" fill="#231f20" letter-spacing="0.55" >2</text>
<text x="390.05" y="334.30" font-size="9.5" text-anchor="end" font-weight="normal" fill="#231f20" letter-spacing="0.55" >4</text>
<text x="390.05" y="302.40" font-size="9.5" text-anchor="end" font-weight="normal" fill="#231f20" letter-spacing="0.55" >6</text>
<text x="390.05" y="270.50" font-size="9.5" text-anchor="end" font-weight="normal" fill="#231f20" letter-spacing="0.55" >8</text>
<text transform="translate(376.3,331.5) rotate(-90)" font-size="11.3" text-anchor="middle" fill="#231f20">Fold increase (ratio)</text>
<rect x="406.50" y="346.05" width="16.8" height="48.65" fill="#878787" stroke="#3a3a3a" stroke-width="0.8"/>
<rect x="431.99" y="376.36" width="16.8" height="18.34" fill="#878787" stroke="#3a3a3a" stroke-width="0.8"/>
<rect x="457.48" y="381.94" width="16.8" height="12.76" fill="#878787" stroke="#3a3a3a" stroke-width="0.8"/>
<rect x="482.97" y="327.71" width="16.8" height="66.99" fill="#878787" stroke="#3a3a3a" stroke-width="0.8"/>
<rect x="508.46" y="379.87" width="16.8" height="14.83" fill="#878787" stroke="#3a3a3a" stroke-width="0.8"/>
<rect x="533.95" y="377.15" width="16.8" height="17.55" fill="#878787" stroke="#3a3a3a" stroke-width="0.8"/>
<rect x="559.44" y="377.15" width="16.8" height="17.55" fill="#878787" stroke="#3a3a3a" stroke-width="0.8"/>
<rect x="584.93" y="371.09" width="16.8" height="23.61" fill="#878787" stroke="#3a3a3a" stroke-width="0.8"/>
<rect x="610.42" y="293.10" width="16.8" height="101.60" fill="#878787" stroke="#3a3a3a" stroke-width="0.8"/>
<rect x="635.91" y="383.06" width="16.8" height="11.64" fill="#878787" stroke="#3a3a3a" stroke-width="0.8"/>
<line x1="414.50" y1="337.28" x2="414.50" y2="353.23" stroke="#444" stroke-width="0.8" />
<line x1="410.40" y1="337.50" x2="419.40" y2="337.50" stroke="#444" stroke-width="0.8" />
<line x1="410.40" y1="353.50" x2="419.40" y2="353.50" stroke="#444" stroke-width="0.8" />
<line x1="440.50" y1="376.36" x2="440.50" y2="383.53" stroke="#444" stroke-width="0.8" />
<line x1="435.89" y1="376.50" x2="444.89" y2="376.50" stroke="#444" stroke-width="0.8" />
<line x1="435.89" y1="383.50" x2="444.89" y2="383.50" stroke="#444" stroke-width="0.8" />
<line x1="465.50" y1="379.55" x2="465.50" y2="383.53" stroke="#444" stroke-width="0.8" />
<line x1="461.38" y1="379.50" x2="470.38" y2="379.50" stroke="#444" stroke-width="0.8" />
<line x1="461.38" y1="383.50" x2="470.38" y2="383.50" stroke="#444" stroke-width="0.8" />
<line x1="491.50" y1="302.19" x2="491.50" y2="353.23" stroke="#444" stroke-width="0.8" />
<line x1="486.87" y1="302.50" x2="495.87" y2="302.50" stroke="#444" stroke-width="0.8" />
<line x1="486.87" y1="353.50" x2="495.87" y2="353.50" stroke="#444" stroke-width="0.8" />
<line x1="516.50" y1="373.17" x2="516.50" y2="386.72" stroke="#444" stroke-width="0.8" />
<line x1="512.36" y1="373.50" x2="521.36" y2="373.50" stroke="#444" stroke-width="0.8" />
<line x1="512.36" y1="386.50" x2="521.36" y2="386.50" stroke="#444" stroke-width="0.8" />
<line x1="542.50" y1="373.17" x2="542.50" y2="380.34" stroke="#444" stroke-width="0.8" />
<line x1="537.85" y1="373.50" x2="546.85" y2="373.50" stroke="#444" stroke-width="0.8" />
<line x1="537.85" y1="380.50" x2="546.85" y2="380.50" stroke="#444" stroke-width="0.8" />
<line x1="567.50" y1="359.61" x2="567.50" y2="394.70" stroke="#444" stroke-width="0.8" />
<line x1="563.34" y1="359.50" x2="572.34" y2="359.50" stroke="#444" stroke-width="0.8" />
<line x1="563.34" y1="394.50" x2="572.34" y2="394.50" stroke="#444" stroke-width="0.8" />
<line x1="593.50" y1="365.19" x2="593.50" y2="377.15" stroke="#444" stroke-width="0.8" />
<line x1="588.83" y1="365.50" x2="597.83" y2="365.50" stroke="#444" stroke-width="0.8" />
<line x1="588.83" y1="377.50" x2="597.83" y2="377.50" stroke="#444" stroke-width="0.8" />
<line x1="618.50" y1="267.10" x2="618.50" y2="318.14" stroke="#444" stroke-width="0.8" />
<line x1="614.32" y1="267.50" x2="623.32" y2="267.50" stroke="#444" stroke-width="0.8" />
<line x1="614.32" y1="318.50" x2="623.32" y2="318.50" stroke="#444" stroke-width="0.8" />
<line x1="644.50" y1="380.34" x2="644.50" y2="385.93" stroke="#444" stroke-width="0.8" />
<line x1="639.81" y1="380.50" x2="648.81" y2="380.50" stroke="#444" stroke-width="0.8" />
<line x1="639.81" y1="385.50" x2="648.81" y2="385.50" stroke="#444" stroke-width="0.8" />
<line x1="398.10" y1="378.75" x2="660.50" y2="378.75" stroke="#444" stroke-width="1.3" stroke-opacity="0.6"/>
<circle cx="414.90" cy="335.60" r="3.7" fill="#000" stroke="none" stroke-width="0.7"/>
<circle cx="410.20" cy="351.50" r="3.7" fill="#000" stroke="none" stroke-width="0.7"/>
<circle cx="420.00" cy="350.30" r="3.7" fill="#000" stroke="none" stroke-width="0.7"/>
<circle cx="435.20" cy="375.30" r="3.7" fill="#000" stroke="none" stroke-width="0.7"/>
<circle cx="435.20" cy="383.50" r="3.7" fill="#000" stroke="none" stroke-width="0.7"/>
<circle cx="445.30" cy="378.80" r="3.7" fill="#000" stroke="none" stroke-width="0.7"/>
<circle cx="460.90" cy="383.50" r="3.7" fill="#000" stroke="none" stroke-width="0.7"/>
<circle cx="465.80" cy="378.10" r="3.7" fill="#000" stroke="none" stroke-width="0.7"/>
<circle cx="471.00" cy="380.40" r="3.7" fill="#000" stroke="none" stroke-width="0.7"/>
<circle cx="491.30" cy="308.30" r="3.7" fill="#000" stroke="none" stroke-width="0.7"/>
<circle cx="491.30" cy="318.10" r="3.7" fill="#000" stroke="none" stroke-width="0.7"/>
<circle cx="491.30" cy="356.60" r="3.7" fill="#000" stroke="none" stroke-width="0.7"/>
<circle cx="512.10" cy="374.10" r="3.7" fill="#000" stroke="none" stroke-width="0.7"/>
<circle cx="516.80" cy="387.00" r="3.7" fill="#000" stroke="none" stroke-width="0.7"/>
<circle cx="521.70" cy="378.80" r="3.7" fill="#000" stroke="none" stroke-width="0.7"/>
<circle cx="542.30" cy="370.60" r="3.7" fill="#000" stroke="none" stroke-width="0.7"/>
<circle cx="537.40" cy="380.40" r="3.7" fill="#000" stroke="none" stroke-width="0.7"/>
<circle cx="547.20" cy="378.80" r="3.7" fill="#000" stroke="none" stroke-width="0.7"/>
<circle cx="567.70" cy="357.80" r="3.7" fill="#000" stroke="none" stroke-width="0.7"/>
<circle cx="562.60" cy="390.00" r="3.7" fill="#000" stroke="none" stroke-width="0.7"/>
<circle cx="572.40" cy="383.50" r="3.7" fill="#000" stroke="none" stroke-width="0.7"/>
<circle cx="588.30" cy="364.30" r="3.7" fill="#000" stroke="none" stroke-width="0.7"/>
<circle cx="598.10" cy="370.60" r="3.7" fill="#000" stroke="none" stroke-width="0.7"/>
<circle cx="593.00" cy="378.30" r="3.7" fill="#000" stroke="none" stroke-width="0.7"/>
<circle cx="618.70" cy="266.70" r="3.7" fill="#000" stroke="none" stroke-width="0.7"/>
<circle cx="618.70" cy="294.20" r="3.7" fill="#000" stroke="none" stroke-width="0.7"/>
<circle cx="618.70" cy="318.10" r="3.7" fill="#000" stroke="none" stroke-width="0.7"/>
<circle cx="639.50" cy="386.50" r="3.7" fill="#000" stroke="none" stroke-width="0.7"/>
<circle cx="644.40" cy="380.40" r="3.7" fill="#000" stroke="none" stroke-width="0.7"/>
<circle cx="649.50" cy="382.30" r="3.7" fill="#000" stroke="none" stroke-width="0.7"/>
<line x1="414.50" y1="394.70" x2="414.50" y2="398.50" stroke="#999" stroke-width="1" />
<text transform="translate(419.70,407.10) rotate(-45)" font-size="11.3" text-anchor="end" fill="#231f20">Mut spectrin</text>
<line x1="440.50" y1="394.70" x2="440.50" y2="398.50" stroke="#999" stroke-width="1" />
<text transform="translate(445.19,407.10) rotate(-45)" font-size="11.3" text-anchor="end" fill="#231f20">88D2a</text>
<line x1="465.50" y1="394.70" x2="465.50" y2="398.50" stroke="#999" stroke-width="1" />
<text transform="translate(470.68,407.10) rotate(-45)" font-size="11.3" text-anchor="end" fill="#231f20">88D2c</text>
<line x1="491.50" y1="394.70" x2="491.50" y2="398.50" stroke="#999" stroke-width="1" />
<text transform="translate(496.17,407.10) rotate(-45)" font-size="11.3" text-anchor="end" fill="#231f20">88D4a</text>
<line x1="516.50" y1="394.70" x2="516.50" y2="398.50" stroke="#999" stroke-width="1" />
<text transform="translate(521.66,407.10) rotate(-45)" font-size="11.3" text-anchor="end" fill="#231f20">88D4b</text>
<line x1="542.50" y1="394.70" x2="542.50" y2="398.50" stroke="#999" stroke-width="1" />
<text transform="translate(547.15,407.10) rotate(-45)" font-size="11.3" text-anchor="end" fill="#231f20">88D6</text>
<line x1="567.50" y1="394.70" x2="567.50" y2="398.50" stroke="#999" stroke-width="1" />
<text transform="translate(572.64,407.10) rotate(-45)" font-size="11.3" text-anchor="end" fill="#231f20">88D8a</text>
<line x1="593.50" y1="394.70" x2="593.50" y2="398.50" stroke="#999" stroke-width="1" />
<text transform="translate(598.13,407.10) rotate(-45)" font-size="11.3" text-anchor="end" fill="#231f20">88D8b</text>
<line x1="618.50" y1="394.70" x2="618.50" y2="398.50" stroke="#999" stroke-width="1" />
<text transform="translate(623.62,407.10) rotate(-45)" font-size="11.3" text-anchor="end" fill="#231f20">88D12a</text>
<line x1="644.50" y1="394.70" x2="644.50" y2="398.50" stroke="#999" stroke-width="1" />
<text transform="translate(649.11,407.10) rotate(-45)" font-size="11.3" text-anchor="end" fill="#231f20">88D12b</text>
<text x="1.00" y="477.80" font-size="17.5" text-anchor="start" font-weight="bold" fill="#000" >c</text>
<text x="140.80" y="481.70" font-size="11.5" text-anchor="middle" font-weight="normal" fill="#231f20" >Mut spectrin</text>
<line x1="70.50" y1="503.40" x2="70.50" y2="644.20" stroke="#555" stroke-width="1" />
<line x1="70.30" y1="644.50" x2="211.00" y2="644.50" stroke="#555" stroke-width="1" />
<line x1="66.30" y1="644.50" x2="70.30" y2="644.50" stroke="#333" stroke-width="0.9" />
<line x1="68.00" y1="630.50" x2="70.30" y2="630.50" stroke="#333" stroke-width="0.9" />
<line x1="66.30" y1="616.50" x2="70.30" y2="616.50" stroke="#333" stroke-width="0.9" />
<line x1="68.00" y1="602.50" x2="70.30" y2="602.50" stroke="#333" stroke-width="0.9" />
<line x1="66.30" y1="588.50" x2="70.30" y2="588.50" stroke="#333" stroke-width="0.9" />
<line x1="68.00" y1="574.50" x2="70.30" y2="574.50" stroke="#333" stroke-width="0.9" />
<line x1="66.30" y1="560.50" x2="70.30" y2="560.50" stroke="#333" stroke-width="0.9" />
<line x1="68.00" y1="545.50" x2="70.30" y2="545.50" stroke="#333" stroke-width="0.9" />
<line x1="66.30" y1="531.50" x2="70.30" y2="531.50" stroke="#333" stroke-width="0.9" />
<line x1="68.00" y1="517.50" x2="70.30" y2="517.50" stroke="#333" stroke-width="0.9" />
<line x1="66.30" y1="503.50" x2="70.30" y2="503.50" stroke="#333" stroke-width="0.9" />
<text x="62.05" y="647.60" font-size="9.5" text-anchor="end" font-weight="normal" fill="#231f20" letter-spacing="0.55" >0</text>
<text x="62.05" y="619.54" font-size="9.5" text-anchor="end" font-weight="normal" fill="#231f20" letter-spacing="0.55" >10,000</text>
<text x="62.05" y="591.48" font-size="9.5" text-anchor="end" font-weight="normal" fill="#231f20" letter-spacing="0.55" >20,000</text>
<text x="62.05" y="563.42" font-size="9.5" text-anchor="end" font-weight="normal" fill="#231f20" letter-spacing="0.55" >30,000</text>
<text x="62.05" y="535.36" font-size="9.5" text-anchor="end" font-weight="normal" fill="#231f20" letter-spacing="0.55" >40,000</text>
<text x="62.05" y="507.30" font-size="9.5" text-anchor="end" font-weight="normal" fill="#231f20" letter-spacing="0.55" >50,000</text>
<line x1="105.50" y1="644.20" x2="105.50" y2="647.70" stroke="#333" stroke-width="0.9" />
<line x1="176.50" y1="644.20" x2="176.50" y2="647.70" stroke="#333" stroke-width="0.9" />
<text x="105.50" y="660.60" font-size="11.5" text-anchor="middle" font-weight="normal" fill="#231f20" >No peptide</text>
<text x="176.00" y="660.60" font-size="11.5" text-anchor="middle" font-weight="normal" fill="#231f20" >Peptide</text>
<text transform="translate(20.50,574.00) rotate(-90)" font-size="11" text-anchor="middle" fill="#231f20">IFN-<tspan font-style="italic">γ</tspan> (pg ml<tspan font-size="7.5" dy="-4.6">−1</tspan><tspan dy="4.6">)</tspan></text>
<polyline points="105.50,626.00 105.50,499.20 176.00,499.20 176.00,505.50" fill="none" stroke="#333" stroke-width="0.9"/>
<text x="140.75" y="501.50" font-size="14" text-anchor="middle" font-weight="normal" fill="#231f20" >***</text>
<line x1="176.50" y1="513.30" x2="176.50" y2="573.20" stroke="#da2a1c" stroke-width="1.2" stroke-opacity="0.4"/>
<line x1="170.00" y1="513.50" x2="182.00" y2="513.50" stroke="#da2a1c" stroke-width="1.1" stroke-opacity="0.6"/>
<line x1="170.00" y1="573.50" x2="182.00" y2="573.50" stroke="#da2a1c" stroke-width="1.1" stroke-opacity="0.6"/>
<line x1="167.50" y1="543.40" x2="184.50" y2="543.40" stroke="#da2a1c" stroke-width="1.5" stroke-opacity="0.7"/>
<circle cx="87.30" cy="640.20" r="5.1" fill="#000" stroke="none" stroke-width="0.7"/>
<circle cx="96.30" cy="632.30" r="5.1" fill="#000" stroke="none" stroke-width="0.7"/>
<circle cx="105.50" cy="638.40" r="5.1" fill="#000" stroke="none" stroke-width="0.7"/>
<circle cx="114.40" cy="637.90" r="5.1" fill="#000" stroke="none" stroke-width="0.7"/>
<circle cx="123.60" cy="640.20" r="5.1" fill="#000" stroke="none" stroke-width="0.7"/>
<circle cx="165.40" cy="511.90" r="5.2" fill="#da2a1c" stroke="none" stroke-width="0.7"/>
<circle cx="186.40" cy="520.60" r="5.2" fill="#da2a1c" stroke="none" stroke-width="0.7"/>
<circle cx="165.40" cy="547.60" r="5.2" fill="#da2a1c" stroke="none" stroke-width="0.7"/>
<circle cx="186.40" cy="547.60" r="5.2" fill="#da2a1c" stroke="none" stroke-width="0.7"/>
<circle cx="175.90" cy="588.90" r="5.2" fill="#da2a1c" stroke="none" stroke-width="0.7"/>
<text x="373.10" y="481.70" font-size="11.5" text-anchor="middle" font-weight="normal" fill="#231f20" >88D4a</text>
<line x1="301.50" y1="502.20" x2="301.50" y2="644.00" stroke="#555" stroke-width="1" />
<line x1="301.80" y1="644.50" x2="443.70" y2="644.50" stroke="#555" stroke-width="1" />
<line x1="297.80" y1="644.50" x2="301.80" y2="644.50" stroke="#333" stroke-width="0.9" />
<line x1="299.50" y1="620.50" x2="301.80" y2="620.50" stroke="#333" stroke-width="0.9" />
<line x1="297.80" y1="596.50" x2="301.80" y2="596.50" stroke="#333" stroke-width="0.9" />
<line x1="299.50" y1="573.50" x2="301.80" y2="573.50" stroke="#333" stroke-width="0.9" />
<line x1="297.80" y1="549.50" x2="301.80" y2="549.50" stroke="#333" stroke-width="0.9" />
<line x1="299.50" y1="526.50" x2="301.80" y2="526.50" stroke="#333" stroke-width="0.9" />
<line x1="297.80" y1="502.50" x2="301.80" y2="502.50" stroke="#333" stroke-width="0.9" />
<text x="294.35" y="647.40" font-size="9.5" text-anchor="end" font-weight="normal" fill="#231f20" letter-spacing="0.55" >0</text>
<text x="294.35" y="600.30" font-size="9.5" text-anchor="end" font-weight="normal" fill="#231f20" letter-spacing="0.55" >10,000</text>
<text x="294.35" y="553.20" font-size="9.5" text-anchor="end" font-weight="normal" fill="#231f20" letter-spacing="0.55" >20,000</text>
<text x="294.35" y="506.10" font-size="9.5" text-anchor="end" font-weight="normal" fill="#231f20" letter-spacing="0.55" >30,000</text>
<line x1="337.50" y1="644.00" x2="337.50" y2="647.50" stroke="#333" stroke-width="0.9" />
<line x1="408.50" y1="644.00" x2="408.50" y2="647.50" stroke="#333" stroke-width="0.9" />
<text x="337.60" y="660.60" font-size="11.5" text-anchor="middle" font-weight="normal" fill="#231f20" >No peptide</text>
<text x="408.70" y="660.60" font-size="11.5" text-anchor="middle" font-weight="normal" fill="#231f20" >Peptide</text>
<text transform="translate(251.50,572.80) rotate(-90)" font-size="11" text-anchor="middle" fill="#231f20">IFN-<tspan font-style="italic">γ</tspan> (pg ml<tspan font-size="7.5" dy="-4.6">−1</tspan><tspan dy="4.6">)</tspan></text>
<polyline points="337.60,628.20 337.60,499.20 408.70,499.20 408.70,505.50" fill="none" stroke="#333" stroke-width="0.9"/>
<text x="373.15" y="501.50" font-size="14" text-anchor="middle" font-weight="normal" fill="#231f20" >**</text>
<line x1="408.50" y1="550.40" x2="408.50" y2="644.00" stroke="#aa9fde" stroke-width="1.2" stroke-opacity="0.4"/>
<line x1="402.70" y1="550.50" x2="414.70" y2="550.50" stroke="#aa9fde" stroke-width="1.1" stroke-opacity="0.6"/>
<line x1="402.70" y1="644.50" x2="414.70" y2="644.50" stroke="#aa9fde" stroke-width="1.1" stroke-opacity="0.6"/>
<line x1="400.20" y1="600.90" x2="417.20" y2="600.90" stroke="#aa9fde" stroke-width="1.5" stroke-opacity="0.7"/>
<circle cx="319.30" cy="641.10" r="5.1" fill="#000" stroke="none" stroke-width="0.7"/>
<circle cx="328.10" cy="634.10" r="5.1" fill="#000" stroke="none" stroke-width="0.7"/>
<circle cx="337.60" cy="638.70" r="5.1" fill="#000" stroke="none" stroke-width="0.7"/>
<circle cx="346.70" cy="637.00" r="5.1" fill="#000" stroke="none" stroke-width="0.7"/>
<circle cx="356.10" cy="641.50" r="5.1" fill="#000" stroke="none" stroke-width="0.7"/>
<circle cx="408.70" cy="511.90" r="5.2" fill="#aa9fde" stroke="none" stroke-width="0.7"/>
<circle cx="408.70" cy="610.00" r="5.2" fill="#aa9fde" stroke="none" stroke-width="0.7"/>
<circle cx="398.20" cy="621.90" r="5.2" fill="#aa9fde" stroke="none" stroke-width="0.7"/>
<circle cx="419.20" cy="624.70" r="5.2" fill="#aa9fde" stroke="none" stroke-width="0.7"/>
<circle cx="398.20" cy="634.10" r="5.2" fill="#aa9fde" stroke="none" stroke-width="0.7"/>
<text x="605.00" y="481.70" font-size="11.5" text-anchor="middle" font-weight="normal" fill="#231f20" >88D12a</text>
<line x1="531.50" y1="499.80" x2="531.50" y2="644.00" stroke="#555" stroke-width="1" />
<line x1="531.90" y1="644.50" x2="677.00" y2="644.50" stroke="#555" stroke-width="1" />
<line x1="527.90" y1="644.50" x2="531.90" y2="644.50" stroke="#333" stroke-width="0.9" />
<line x1="529.60" y1="629.50" x2="531.90" y2="629.50" stroke="#333" stroke-width="0.9" />
<line x1="527.90" y1="615.50" x2="531.90" y2="615.50" stroke="#333" stroke-width="0.9" />
<line x1="529.60" y1="600.50" x2="531.90" y2="600.50" stroke="#333" stroke-width="0.9" />
<line x1="527.90" y1="586.50" x2="531.90" y2="586.50" stroke="#333" stroke-width="0.9" />
<line x1="529.60" y1="572.50" x2="531.90" y2="572.50" stroke="#333" stroke-width="0.9" />
<line x1="527.90" y1="557.50" x2="531.90" y2="557.50" stroke="#333" stroke-width="0.9" />
<line x1="529.60" y1="543.50" x2="531.90" y2="543.50" stroke="#333" stroke-width="0.9" />
<line x1="527.90" y1="529.50" x2="531.90" y2="529.50" stroke="#333" stroke-width="0.9" />
<line x1="529.60" y1="514.50" x2="531.90" y2="514.50" stroke="#333" stroke-width="0.9" />
<line x1="527.90" y1="500.50" x2="531.90" y2="500.50" stroke="#333" stroke-width="0.9" />
<text x="524.35" y="647.40" font-size="9.5" text-anchor="end" font-weight="normal" fill="#231f20" letter-spacing="0.55" >0</text>
<text x="524.35" y="618.66" font-size="9.5" text-anchor="end" font-weight="normal" fill="#231f20" letter-spacing="0.55" >10,000</text>
<text x="524.35" y="589.92" font-size="9.5" text-anchor="end" font-weight="normal" fill="#231f20" letter-spacing="0.55" >20,000</text>
<text x="524.35" y="561.18" font-size="9.5" text-anchor="end" font-weight="normal" fill="#231f20" letter-spacing="0.55" >30,000</text>
<text x="524.35" y="532.44" font-size="9.5" text-anchor="end" font-weight="normal" fill="#231f20" letter-spacing="0.55" >40,000</text>
<text x="524.35" y="503.70" font-size="9.5" text-anchor="end" font-weight="normal" fill="#231f20" letter-spacing="0.55" >50,000</text>
<line x1="568.50" y1="644.00" x2="568.50" y2="647.50" stroke="#333" stroke-width="0.9" />
<line x1="640.50" y1="644.00" x2="640.50" y2="647.50" stroke="#333" stroke-width="0.9" />
<text x="568.30" y="660.60" font-size="11.5" text-anchor="middle" font-weight="normal" fill="#231f20" >No peptide</text>
<text x="640.50" y="660.60" font-size="11.5" text-anchor="middle" font-weight="normal" fill="#231f20" >Peptide</text>
<text transform="translate(475.30,570.40) rotate(-90)" font-size="11" text-anchor="middle" fill="#231f20">IFN-<tspan font-style="italic">γ</tspan> (pg ml<tspan font-size="7.5" dy="-4.6">−1</tspan><tspan dy="4.6">)</tspan></text>
<polyline points="568.30,624.70 568.30,500.30 640.50,500.30 640.50,505.50" fill="none" stroke="#333" stroke-width="0.9"/>
<text x="604.40" y="502.60" font-size="14" text-anchor="middle" font-weight="normal" fill="#231f20" >**</text>
<line x1="640.50" y1="541.30" x2="640.50" y2="644.00" stroke="#aa9fde" stroke-width="1.2" stroke-opacity="0.4"/>
<line x1="634.50" y1="541.50" x2="646.50" y2="541.50" stroke="#aa9fde" stroke-width="1.1" stroke-opacity="0.6"/>
<line x1="634.50" y1="644.50" x2="646.50" y2="644.50" stroke="#aa9fde" stroke-width="1.1" stroke-opacity="0.6"/>
<line x1="632.00" y1="591.40" x2="649.00" y2="591.40" stroke="#aa9fde" stroke-width="1.5" stroke-opacity="0.7"/>
<circle cx="550.10" cy="641.10" r="5.1" fill="#000" stroke="none" stroke-width="0.7"/>
<circle cx="559.60" cy="638.00" r="5.1" fill="#000" stroke="none" stroke-width="0.7"/>
<circle cx="568.70" cy="640.40" r="5.1" fill="#000" stroke="none" stroke-width="0.7"/>
<circle cx="578.10" cy="638.00" r="5.1" fill="#000" stroke="none" stroke-width="0.7"/>
<circle cx="587.60" cy="643.30" r="5.1" fill="#000" stroke="none" stroke-width="0.7"/>
<circle cx="640.50" cy="513.30" r="5.2" fill="#aa9fde" stroke="none" stroke-width="0.7"/>
<circle cx="630.00" cy="587.90" r="5.2" fill="#aa9fde" stroke="none" stroke-width="0.7"/>
<circle cx="651.70" cy="586.80" r="5.2" fill="#aa9fde" stroke="none" stroke-width="0.7"/>
<circle cx="640.50" cy="623.60" r="5.2" fill="#aa9fde" stroke="none" stroke-width="0.7"/>
<circle cx="640.50" cy="642.90" r="5.2" fill="#aa9fde" stroke="none" stroke-width="0.7"/>
<text x="0.50" y="694.00" font-size="17.5" text-anchor="start" font-weight="bold" fill="#000" >d</text>
<text x="123.50" y="697.20" font-size="11.5" text-anchor="middle" font-weight="normal" fill="#231f20" >MCA205 spectrin-β2</text>
<line x1="55.70" y1="717.50" x2="68.70" y2="717.50" stroke="#999" stroke-width="0.9" />
<circle cx="62.20" cy="717.90" r="3.8" fill="#c4c4c4" stroke="#555" stroke-width="0.7"/>
<line x1="55.70" y1="730.50" x2="68.70" y2="730.50" stroke="#f08080" stroke-width="0.9" />
<circle cx="62.20" cy="730.80" r="3.8" fill="#f4aaa4" stroke="#b06060" stroke-width="0.7"/>
<line x1="55.70" y1="743.50" x2="68.70" y2="743.50" stroke="#000" stroke-width="0.9" />
<circle cx="62.20" cy="743.90" r="3.8" fill="#000" stroke="#000" stroke-width="0.7"/>
<line x1="55.70" y1="758.50" x2="68.70" y2="758.50" stroke="#e04030" stroke-width="0.9" />
<circle cx="62.20" cy="758.60" r="3.8" fill="#e0281e" stroke="#8a1a10" stroke-width="0.7"/>
<text x="72.70" y="721.10" font-size="9.6" fill="#231f20">WT</text>
<text x="87.62" y="717.00" font-size="6.4" fill="#231f20">high</text>
<text x="99.72" y="721.10" font-size="9.6" fill="#231f20">&#160;in&#160;WT&#160;mice</text>
<text x="72.70" y="733.90" font-size="9.6" fill="#231f20">WT</text>
<text x="87.62" y="729.80" font-size="6.4" fill="#231f20">high</text>
<text x="99.72" y="733.90" font-size="9.6" fill="#231f20">&#160;in&#160;sGSN</text>
<text x="138.13" y="729.80" font-size="6.4" fill="#231f20">KO</text>
<text x="147.38" y="733.90" font-size="9.6" fill="#231f20">&#160;mice</text>
<text x="72.70" y="747.00" font-size="9.6" fill="#231f20">R</text>
<text x="79.63" y="749.60" font-size="6.4" fill="#231f20">913</text>
<path d="M90.81,744.12 L95.01,744.12" stroke="#231f20" stroke-width="0.82" fill="none"/>
<path d="M93.51,742.32 L96.21,744.12 L93.51,745.92 Z" fill="#231f20"/>
<text x="96.71" y="747.00" font-size="9.6" fill="#231f20">L</text>
<text x="102.05" y="742.90" font-size="6.4" fill="#231f20">high</text>
<text x="114.15" y="747.00" font-size="9.6" fill="#231f20">&#160;in&#160;WT&#160;mice</text>
<text x="72.70" y="761.60" font-size="9.6" fill="#231f20">R</text>
<text x="79.63" y="764.20" font-size="6.4" fill="#231f20">913</text>
<path d="M90.81,758.72 L95.01,758.72" stroke="#231f20" stroke-width="0.82" fill="none"/>
<path d="M93.51,756.92 L96.21,758.72 L93.51,760.52 Z" fill="#231f20"/>
<text x="96.71" y="761.60" font-size="9.6" fill="#231f20">L</text>
<text x="102.05" y="757.50" font-size="6.4" fill="#231f20">high</text>
<text x="114.15" y="761.60" font-size="9.6" fill="#231f20">&#160;in&#160;sGSN</text>
<text x="152.56" y="757.50" font-size="6.4" fill="#231f20">KO</text>
<text x="161.81" y="761.60" font-size="9.6" fill="#231f20">mice</text>
<line x1="51.50" y1="766.50" x2="51.50" y2="912.30" stroke="#999" stroke-width="1" />
<line x1="51.00" y1="912.50" x2="196.40" y2="912.50" stroke="#999" stroke-width="1" />
<line x1="47.00" y1="912.50" x2="51.00" y2="912.50" stroke="#333" stroke-width="0.9" />
<text x="42.35" y="915.70" font-size="9.5" text-anchor="end" font-weight="normal" fill="#231f20" letter-spacing="0.55" >0</text>
<line x1="47.00" y1="883.50" x2="51.00" y2="883.50" stroke="#333" stroke-width="0.9" />
<text x="42.35" y="886.64" font-size="9.5" text-anchor="end" font-weight="normal" fill="#231f20" letter-spacing="0.55" >200</text>
<line x1="47.00" y1="854.50" x2="51.00" y2="854.50" stroke="#333" stroke-width="0.9" />
<text x="42.35" y="857.58" font-size="9.5" text-anchor="end" font-weight="normal" fill="#231f20" letter-spacing="0.55" >400</text>
<line x1="47.00" y1="825.50" x2="51.00" y2="825.50" stroke="#333" stroke-width="0.9" />
<text x="42.35" y="828.52" font-size="9.5" text-anchor="end" font-weight="normal" fill="#231f20" letter-spacing="0.55" >600</text>
<line x1="47.00" y1="796.50" x2="51.00" y2="796.50" stroke="#333" stroke-width="0.9" />
<text x="42.35" y="799.46" font-size="9.5" text-anchor="end" font-weight="normal" fill="#231f20" letter-spacing="0.55" >800</text>
<line x1="47.00" y1="767.50" x2="51.00" y2="767.50" stroke="#333" stroke-width="0.9" />
<text x="42.35" y="770.40" font-size="9.5" text-anchor="end" font-weight="normal" fill="#231f20" letter-spacing="0.55" >1,000</text>
<line x1="51.50" y1="912.30" x2="51.50" y2="916.30" stroke="#333" stroke-width="0.9" />
<text x="51.27" y="928.00" font-size="9.5" text-anchor="middle" font-weight="normal" fill="#231f20" letter-spacing="0.55" >0</text>
<line x1="87.50" y1="912.30" x2="87.50" y2="916.30" stroke="#333" stroke-width="0.9" />
<text x="87.58" y="928.00" font-size="9.5" text-anchor="middle" font-weight="normal" fill="#231f20" letter-spacing="0.55" >5</text>
<line x1="123.50" y1="912.30" x2="123.50" y2="916.30" stroke="#333" stroke-width="0.9" />
<text x="123.88" y="928.00" font-size="9.5" text-anchor="middle" font-weight="normal" fill="#231f20" letter-spacing="0.55" >10</text>
<line x1="159.50" y1="912.30" x2="159.50" y2="916.30" stroke="#333" stroke-width="0.9" />
<text x="160.17" y="928.00" font-size="9.5" text-anchor="middle" font-weight="normal" fill="#231f20" letter-spacing="0.55" >15</text>
<line x1="196.50" y1="912.30" x2="196.50" y2="916.30" stroke="#333" stroke-width="0.9" />
<text x="196.47" y="928.00" font-size="9.5" text-anchor="middle" font-weight="normal" fill="#231f20" letter-spacing="0.55" >20</text>
<text x="123.70" y="943.70" font-size="11" text-anchor="middle" font-weight="normal" fill="#231f20" >Time (days)</text>
<text transform="translate(9.50,839.60) rotate(-90)" font-size="11.5" text-anchor="middle" fill="#231f20">Tumor volume (mm<tspan font-size="7.5" dy="-4">3</tspan><tspan dy="4">)</tspan></text>
<polyline points="51.00,912.30 80.04,903.20 94.56,888.50 109.08,879.10 123.60,867.90 138.12,841.80 152.64,806.70 167.16,791.50" fill="none" stroke="#aaa" stroke-width="0.8"/>
<circle cx="51.00" cy="912.30" r="3.8" fill="#c4c4c4" fill-opacity="1" stroke="#444" stroke-width="0.7"/>
<circle cx="80.04" cy="903.20" r="3.8" fill="#c4c4c4" fill-opacity="1" stroke="#444" stroke-width="0.7"/>
<circle cx="94.56" cy="888.50" r="3.8" fill="#c4c4c4" fill-opacity="1" stroke="#444" stroke-width="0.7"/>
<circle cx="109.08" cy="879.10" r="3.8" fill="#c4c4c4" fill-opacity="1" stroke="#444" stroke-width="0.7"/>
<circle cx="123.60" cy="867.90" r="3.8" fill="#c4c4c4" fill-opacity="1" stroke="#444" stroke-width="0.7"/>
<circle cx="138.12" cy="841.80" r="3.8" fill="#c4c4c4" fill-opacity="1" stroke="#444" stroke-width="0.7"/>
<circle cx="152.64" cy="806.70" r="3.8" fill="#c4c4c4" fill-opacity="1" stroke="#444" stroke-width="0.7"/>
<circle cx="167.16" cy="791.50" r="3.8" fill="#c4c4c4" fill-opacity="1" stroke="#444" stroke-width="0.7"/>
<line x1="109.50" y1="877.60" x2="109.50" y2="870.80" stroke="#666" stroke-width="0.9" />
<line x1="105.28" y1="870.50" x2="112.88" y2="870.50" stroke="#666" stroke-width="0.9" />
<line x1="123.50" y1="866.40" x2="123.50" y2="863.60" stroke="#666" stroke-width="0.9" />
<line x1="119.80" y1="863.50" x2="127.40" y2="863.50" stroke="#666" stroke-width="0.9" />
<line x1="138.50" y1="840.30" x2="138.50" y2="833.90" stroke="#666" stroke-width="0.9" />
<line x1="134.32" y1="833.50" x2="141.92" y2="833.50" stroke="#666" stroke-width="0.9" />
<line x1="152.50" y1="805.20" x2="152.50" y2="796.60" stroke="#666" stroke-width="0.9" />
<line x1="148.84" y1="796.50" x2="156.44" y2="796.50" stroke="#666" stroke-width="0.9" />
<polyline points="51.00,912.30 80.04,907.20 94.56,896.70 109.08,874.00 123.60,867.90 138.12,842.20 152.64,816.10 167.16,781.50" fill="none" stroke="#f0a098" stroke-width="0.8"/>
<circle cx="51.00" cy="912.30" r="3.8" fill="#f2a09a" fill-opacity="0.8" stroke="#9a5a55" stroke-width="0.7"/>
<circle cx="80.04" cy="907.20" r="3.8" fill="#f2a09a" fill-opacity="0.8" stroke="#9a5a55" stroke-width="0.7"/>
<circle cx="94.56" cy="896.70" r="3.8" fill="#f2a09a" fill-opacity="0.8" stroke="#9a5a55" stroke-width="0.7"/>
<circle cx="109.08" cy="874.00" r="3.8" fill="#f2a09a" fill-opacity="0.8" stroke="#9a5a55" stroke-width="0.7"/>
<circle cx="123.60" cy="867.90" r="3.8" fill="#f2a09a" fill-opacity="0.8" stroke="#9a5a55" stroke-width="0.7"/>
<circle cx="138.12" cy="842.20" r="3.8" fill="#f2a09a" fill-opacity="0.8" stroke="#9a5a55" stroke-width="0.7"/>
<circle cx="152.64" cy="816.10" r="3.8" fill="#f2a09a" fill-opacity="0.8" stroke="#9a5a55" stroke-width="0.7"/>
<circle cx="167.16" cy="781.50" r="3.8" fill="#f2a09a" fill-opacity="0.8" stroke="#9a5a55" stroke-width="0.7"/>
<line x1="123.50" y1="866.40" x2="123.50" y2="865.20" stroke="#666" stroke-width="0.9" />
<line x1="119.80" y1="865.50" x2="127.40" y2="865.50" stroke="#666" stroke-width="0.9" />
<line x1="138.50" y1="840.70" x2="138.50" y2="835.50" stroke="#666" stroke-width="0.9" />
<line x1="134.32" y1="835.50" x2="141.92" y2="835.50" stroke="#666" stroke-width="0.9" />
<line x1="167.50" y1="780.00" x2="167.50" y2="769.60" stroke="#666" stroke-width="0.9" />
<line x1="163.36" y1="769.50" x2="170.96" y2="769.50" stroke="#666" stroke-width="0.9" />
<polyline points="51.00,912.30 80.04,906.00 94.56,893.60 109.08,883.80 123.60,879.60 138.12,862.30 152.64,860.90 167.16,861.60" fill="none" stroke="#000" stroke-width="1.3"/>
<circle cx="51.00" cy="912.30" r="3.8" fill="#000" fill-opacity="1" stroke="#000" stroke-width="0.7"/>
<circle cx="80.04" cy="906.00" r="3.8" fill="#000" fill-opacity="1" stroke="#000" stroke-width="0.7"/>
<circle cx="94.56" cy="893.60" r="3.8" fill="#000" fill-opacity="1" stroke="#000" stroke-width="0.7"/>
<circle cx="109.08" cy="883.80" r="3.8" fill="#000" fill-opacity="1" stroke="#000" stroke-width="0.7"/>
<circle cx="123.60" cy="879.60" r="3.8" fill="#000" fill-opacity="1" stroke="#000" stroke-width="0.7"/>
<circle cx="138.12" cy="862.30" r="3.8" fill="#000" fill-opacity="1" stroke="#000" stroke-width="0.7"/>
<circle cx="152.64" cy="860.90" r="3.8" fill="#000" fill-opacity="1" stroke="#000" stroke-width="0.7"/>
<circle cx="167.16" cy="861.60" r="3.8" fill="#000" fill-opacity="1" stroke="#000" stroke-width="0.7"/>
<line x1="152.50" y1="859.40" x2="152.50" y2="856.80" stroke="#666" stroke-width="0.9" />
<line x1="148.84" y1="856.50" x2="156.44" y2="856.50" stroke="#666" stroke-width="0.9" />
<polyline points="51.00,912.30 80.04,909.50 94.56,901.80 109.08,892.00 123.60,890.80 138.12,881.90 152.64,877.30 167.16,859.30" fill="none" stroke="#e03a2a" stroke-width="1.1"/>
<circle cx="51.00" cy="912.30" r="3.8" fill="#e0281e" fill-opacity="1" stroke="#6a1208" stroke-width="0.7"/>
<circle cx="80.04" cy="909.50" r="3.8" fill="#e0281e" fill-opacity="1" stroke="#6a1208" stroke-width="0.7"/>
<circle cx="94.56" cy="901.80" r="3.8" fill="#e0281e" fill-opacity="1" stroke="#6a1208" stroke-width="0.7"/>
<circle cx="109.08" cy="892.00" r="3.8" fill="#e0281e" fill-opacity="1" stroke="#6a1208" stroke-width="0.7"/>
<circle cx="123.60" cy="890.80" r="3.8" fill="#e0281e" fill-opacity="1" stroke="#6a1208" stroke-width="0.7"/>
<circle cx="138.12" cy="881.90" r="3.8" fill="#e0281e" fill-opacity="1" stroke="#6a1208" stroke-width="0.7"/>
<circle cx="152.64" cy="877.30" r="3.8" fill="#e0281e" fill-opacity="1" stroke="#6a1208" stroke-width="0.7"/>
<circle cx="167.16" cy="859.30" r="3.8" fill="#e0281e" fill-opacity="1" stroke="#6a1208" stroke-width="0.7"/>
<line x1="152.50" y1="875.80" x2="152.50" y2="871.30" stroke="#666" stroke-width="0.9" />
<line x1="148.84" y1="871.50" x2="156.44" y2="871.50" stroke="#666" stroke-width="0.9" />
<line x1="167.50" y1="857.80" x2="167.50" y2="850.70" stroke="#666" stroke-width="0.9" />
<line x1="163.36" y1="850.50" x2="170.96" y2="850.50" stroke="#666" stroke-width="0.9" />
<line x1="175.50" y1="780.60" x2="175.50" y2="793.90" stroke="#333" stroke-width="0.9" />
<text x="179.50" y="790.00" font-size="9.8" text-anchor="start" font-weight="normal" fill="#231f20" >ns</text>
<line x1="175.50" y1="853.40" x2="175.50" y2="866.30" stroke="#333" stroke-width="0.9" />
<text x="179.50" y="862.80" font-size="9.8" text-anchor="start" font-weight="normal" fill="#231f20" >ns</text>
<line x1="192.50" y1="788.00" x2="192.50" y2="859.30" stroke="#333" stroke-width="0.9" />
<text transform="translate(191.40,825.00) rotate(90)" font-size="14" text-anchor="middle" fill="#231f20">****</text>
<text x="350.00" y="697.50" font-size="11.5" text-anchor="middle" font-weight="normal" fill="#231f20" >MCA205 spectrin-β2</text>
<line x1="275.70" y1="718.50" x2="288.70" y2="718.50" stroke="#999" stroke-width="0.9" />
<circle cx="282.20" cy="718.70" r="3.8" fill="#c4c4c4" stroke="#555" stroke-width="0.7"/>
<line x1="275.70" y1="732.50" x2="288.70" y2="732.50" stroke="#8ab4e0" stroke-width="0.9" />
<circle cx="282.20" cy="732.80" r="3.8" fill="#cde0f4" stroke="#6a8ab0" stroke-width="0.7"/>
<line x1="275.70" y1="746.50" x2="288.70" y2="746.50" stroke="#000" stroke-width="0.9" />
<circle cx="282.20" cy="746.60" r="3.8" fill="#000" stroke="#000" stroke-width="0.7"/>
<line x1="275.70" y1="760.50" x2="288.70" y2="760.50" stroke="#4a88cc" stroke-width="0.9" />
<circle cx="282.20" cy="760.00" r="3.8" fill="#4a88cc" stroke="#2a4a78" stroke-width="0.7"/>
<text x="292.90" y="722.00" font-size="9.6" fill="#231f20">WT</text>
<text x="307.82" y="717.90" font-size="6.4" fill="#231f20">low</text>
<text x="317.43" y="722.00" font-size="9.6" fill="#231f20">&#160;in&#160;WT&#160;mice</text>
<text x="292.90" y="736.00" font-size="9.6" fill="#231f20">WT</text>
<text x="307.82" y="731.90" font-size="6.4" fill="#231f20">low</text>
<text x="317.43" y="736.00" font-size="9.6" fill="#231f20">&#160;in&#160;sGSN</text>
<text x="355.84" y="731.90" font-size="6.4" fill="#231f20">KO</text>
<text x="365.08" y="736.00" font-size="9.6" fill="#231f20">&#160;mice</text>
<text x="292.90" y="749.60" font-size="9.6" fill="#231f20">R</text>
<text x="299.83" y="752.20" font-size="6.4" fill="#231f20">913</text>
<path d="M311.01,746.72 L315.21,746.72" stroke="#231f20" stroke-width="0.82" fill="none"/>
<path d="M313.71,744.92 L316.41,746.72 L313.71,748.52 Z" fill="#231f20"/>
<text x="316.91" y="749.60" font-size="9.6" fill="#231f20">L</text>
<text x="322.25" y="745.50" font-size="6.4" fill="#231f20">low</text>
<text x="331.85" y="749.60" font-size="9.6" fill="#231f20">&#160;in&#160;WT&#160;mice</text>
<text x="292.90" y="763.20" font-size="9.6" fill="#231f20">R</text>
<text x="299.83" y="765.80" font-size="6.4" fill="#231f20">913</text>
<path d="M311.01,760.32 L315.21,760.32" stroke="#231f20" stroke-width="0.82" fill="none"/>
<path d="M313.71,758.52 L316.41,760.32 L313.71,762.12 Z" fill="#231f20"/>
<text x="316.91" y="763.20" font-size="9.6" fill="#231f20">L</text>
<text x="322.25" y="759.10" font-size="6.4" fill="#231f20">low</text>
<text x="331.85" y="763.20" font-size="9.6" fill="#231f20">&#160;in&#160;sGSN</text>
<text x="370.26" y="759.10" font-size="6.4" fill="#231f20">KO</text>
<text x="379.51" y="763.20" font-size="9.6" fill="#231f20">&#160;mice</text>
<line x1="274.50" y1="766.90" x2="274.50" y2="911.80" stroke="#666" stroke-width="1" />
<line x1="274.40" y1="911.50" x2="419.20" y2="911.50" stroke="#666" stroke-width="1" />
<line x1="270.40" y1="911.50" x2="274.40" y2="911.50" stroke="#333" stroke-width="0.9" />
<text x="265.75" y="915.20" font-size="9.5" text-anchor="end" font-weight="normal" fill="#231f20" letter-spacing="0.55" >0</text>
<line x1="270.40" y1="882.50" x2="274.40" y2="882.50" stroke="#333" stroke-width="0.9" />
<text x="265.75" y="886.32" font-size="9.5" text-anchor="end" font-weight="normal" fill="#231f20" letter-spacing="0.55" >200</text>
<line x1="270.40" y1="854.50" x2="274.40" y2="854.50" stroke="#333" stroke-width="0.9" />
<text x="265.75" y="857.44" font-size="9.5" text-anchor="end" font-weight="normal" fill="#231f20" letter-spacing="0.55" >400</text>
<line x1="270.40" y1="825.50" x2="274.40" y2="825.50" stroke="#333" stroke-width="0.9" />
<text x="265.75" y="828.56" font-size="9.5" text-anchor="end" font-weight="normal" fill="#231f20" letter-spacing="0.55" >600</text>
<line x1="270.40" y1="796.50" x2="274.40" y2="796.50" stroke="#333" stroke-width="0.9" />
<text x="265.75" y="799.68" font-size="9.5" text-anchor="end" font-weight="normal" fill="#231f20" letter-spacing="0.55" >800</text>
<line x1="270.40" y1="767.50" x2="274.40" y2="767.50" stroke="#333" stroke-width="0.9" />
<text x="265.75" y="770.80" font-size="9.5" text-anchor="end" font-weight="normal" fill="#231f20" letter-spacing="0.55" >1,000</text>
<line x1="274.50" y1="911.80" x2="274.50" y2="915.80" stroke="#333" stroke-width="0.9" />
<text x="274.67" y="928.00" font-size="9.5" text-anchor="middle" font-weight="normal" fill="#231f20" letter-spacing="0.55" >0</text>
<line x1="310.50" y1="911.80" x2="310.50" y2="915.80" stroke="#333" stroke-width="0.9" />
<text x="310.97" y="928.00" font-size="9.5" text-anchor="middle" font-weight="normal" fill="#231f20" letter-spacing="0.55" >5</text>
<line x1="347.50" y1="911.80" x2="347.50" y2="915.80" stroke="#333" stroke-width="0.9" />
<text x="347.27" y="928.00" font-size="9.5" text-anchor="middle" font-weight="normal" fill="#231f20" letter-spacing="0.55" >10</text>
<line x1="383.50" y1="911.80" x2="383.50" y2="915.80" stroke="#333" stroke-width="0.9" />
<text x="383.57" y="928.00" font-size="9.5" text-anchor="middle" font-weight="normal" fill="#231f20" letter-spacing="0.55" >15</text>
<line x1="419.50" y1="911.80" x2="419.50" y2="915.80" stroke="#333" stroke-width="0.9" />
<text x="419.87" y="928.00" font-size="9.5" text-anchor="middle" font-weight="normal" fill="#231f20" letter-spacing="0.55" >20</text>
<text x="346.50" y="943.70" font-size="11" text-anchor="middle" font-weight="normal" fill="#231f20" >Time (days)</text>
<text transform="translate(232.50,841.30) rotate(-90)" font-size="11.5" text-anchor="middle" fill="#231f20">Tumor volume (mm<tspan font-size="7.5" dy="-4">3</tspan><tspan dy="4">)</tspan></text>
<polyline points="274.40,911.80 303.44,902.70 317.96,890.60 332.48,875.80 347.00,863.10 361.52,836.90 376.04,817.90 390.56,791.60" fill="none" stroke="#aaa" stroke-width="0.8"/>
<circle cx="274.40" cy="911.80" r="3.8" fill="#c4c4c4" fill-opacity="1" stroke="#444" stroke-width="0.7"/>
<circle cx="303.44" cy="902.70" r="3.8" fill="#c4c4c4" fill-opacity="1" stroke="#444" stroke-width="0.7"/>
<circle cx="317.96" cy="890.60" r="3.8" fill="#c4c4c4" fill-opacity="1" stroke="#444" stroke-width="0.7"/>
<circle cx="332.48" cy="875.80" r="3.8" fill="#c4c4c4" fill-opacity="1" stroke="#444" stroke-width="0.7"/>
<circle cx="347.00" cy="863.10" r="3.8" fill="#c4c4c4" fill-opacity="1" stroke="#444" stroke-width="0.7"/>
<circle cx="361.52" cy="836.90" r="3.8" fill="#c4c4c4" fill-opacity="1" stroke="#444" stroke-width="0.7"/>
<circle cx="376.04" cy="817.90" r="3.8" fill="#c4c4c4" fill-opacity="1" stroke="#444" stroke-width="0.7"/>
<circle cx="390.56" cy="791.60" r="3.8" fill="#c4c4c4" fill-opacity="1" stroke="#444" stroke-width="0.7"/>
<line x1="332.50" y1="874.30" x2="332.50" y2="871.50" stroke="#666" stroke-width="0.9" />
<line x1="328.68" y1="871.50" x2="336.28" y2="871.50" stroke="#666" stroke-width="0.9" />
<line x1="347.50" y1="861.60" x2="347.50" y2="858.60" stroke="#666" stroke-width="0.9" />
<line x1="343.20" y1="858.50" x2="350.80" y2="858.50" stroke="#666" stroke-width="0.9" />
<line x1="361.50" y1="835.40" x2="361.50" y2="830.50" stroke="#666" stroke-width="0.9" />
<line x1="357.72" y1="830.50" x2="365.32" y2="830.50" stroke="#666" stroke-width="0.9" />
<line x1="376.50" y1="816.40" x2="376.50" y2="809.50" stroke="#666" stroke-width="0.9" />
<line x1="372.24" y1="809.50" x2="379.84" y2="809.50" stroke="#666" stroke-width="0.9" />
<line x1="390.50" y1="790.10" x2="390.50" y2="777.40" stroke="#666" stroke-width="0.9" />
<line x1="386.76" y1="777.50" x2="394.36" y2="777.50" stroke="#666" stroke-width="0.9" />
<polyline points="274.40,911.80 303.44,905.00 317.96,891.60 332.48,878.20 347.00,874.20 361.52,843.90 376.04,833.60 390.56,816.50" fill="none" stroke="#000" stroke-width="1.3"/>
<circle cx="274.40" cy="911.80" r="3.8" fill="#000" fill-opacity="1" stroke="#000" stroke-width="0.7"/>
<circle cx="303.44" cy="905.00" r="3.8" fill="#000" fill-opacity="1" stroke="#000" stroke-width="0.7"/>
<circle cx="317.96" cy="891.60" r="3.8" fill="#000" fill-opacity="1" stroke="#000" stroke-width="0.7"/>
<circle cx="332.48" cy="878.20" r="3.8" fill="#000" fill-opacity="1" stroke="#000" stroke-width="0.7"/>
<circle cx="347.00" cy="874.20" r="3.8" fill="#000" fill-opacity="1" stroke="#000" stroke-width="0.7"/>
<circle cx="361.52" cy="843.90" r="3.8" fill="#000" fill-opacity="1" stroke="#000" stroke-width="0.7"/>
<circle cx="376.04" cy="833.60" r="3.8" fill="#000" fill-opacity="1" stroke="#000" stroke-width="0.7"/>
<circle cx="390.56" cy="816.50" r="3.8" fill="#000" fill-opacity="1" stroke="#000" stroke-width="0.7"/>
<polyline points="274.40,911.80 303.44,904.00 317.96,893.30 332.48,879.90 347.00,868.10 361.52,847.30 376.04,827.20 390.56,800.60" fill="none" stroke="#8ab4e0" stroke-width="0.8"/>
<circle cx="274.40" cy="911.80" r="3.8" fill="#cde0f4" fill-opacity="0.8" stroke="#4a6a90" stroke-width="0.7"/>
<circle cx="303.44" cy="904.00" r="3.8" fill="#cde0f4" fill-opacity="0.8" stroke="#4a6a90" stroke-width="0.7"/>
<circle cx="317.96" cy="893.30" r="3.8" fill="#cde0f4" fill-opacity="0.8" stroke="#4a6a90" stroke-width="0.7"/>
<circle cx="332.48" cy="879.90" r="3.8" fill="#cde0f4" fill-opacity="0.8" stroke="#4a6a90" stroke-width="0.7"/>
<circle cx="347.00" cy="868.10" r="3.8" fill="#cde0f4" fill-opacity="0.8" stroke="#4a6a90" stroke-width="0.7"/>
<circle cx="361.52" cy="847.30" r="3.8" fill="#cde0f4" fill-opacity="0.8" stroke="#4a6a90" stroke-width="0.7"/>
<circle cx="376.04" cy="827.20" r="3.8" fill="#cde0f4" fill-opacity="0.8" stroke="#4a6a90" stroke-width="0.7"/>
<circle cx="390.56" cy="800.60" r="3.8" fill="#cde0f4" fill-opacity="0.8" stroke="#4a6a90" stroke-width="0.7"/>
<line x1="376.50" y1="825.70" x2="376.50" y2="823.60" stroke="#666" stroke-width="0.9" />
<line x1="372.24" y1="823.50" x2="379.84" y2="823.50" stroke="#666" stroke-width="0.9" />
<polyline points="274.40,911.80 303.44,906.70 317.96,892.60 332.48,887.60 347.00,868.10 361.52,868.10 376.04,861.10 390.56,853.90" fill="none" stroke="#4a88cc" stroke-width="1.0"/>
<circle cx="274.40" cy="911.80" r="3.8" fill="#4a88cc" fill-opacity="1" stroke="#2a4a78" stroke-width="0.7"/>
<circle cx="303.44" cy="906.70" r="3.8" fill="#4a88cc" fill-opacity="1" stroke="#2a4a78" stroke-width="0.7"/>
<circle cx="317.96" cy="892.60" r="3.8" fill="#4a88cc" fill-opacity="1" stroke="#2a4a78" stroke-width="0.7"/>
<circle cx="332.48" cy="887.60" r="3.8" fill="#4a88cc" fill-opacity="1" stroke="#2a4a78" stroke-width="0.7"/>
<circle cx="347.00" cy="868.10" r="3.8" fill="#4a88cc" fill-opacity="1" stroke="#2a4a78" stroke-width="0.7"/>
<circle cx="361.52" cy="868.10" r="3.8" fill="#4a88cc" fill-opacity="1" stroke="#2a4a78" stroke-width="0.7"/>
<circle cx="376.04" cy="861.10" r="3.8" fill="#4a88cc" fill-opacity="1" stroke="#2a4a78" stroke-width="0.7"/>
<circle cx="390.56" cy="853.90" r="3.8" fill="#4a88cc" fill-opacity="1" stroke="#2a4a78" stroke-width="0.7"/>
<line x1="361.50" y1="866.60" x2="361.50" y2="862.50" stroke="#666" stroke-width="0.9" />
<line x1="357.72" y1="862.50" x2="365.32" y2="862.50" stroke="#666" stroke-width="0.9" />
<line x1="376.50" y1="859.60" x2="376.50" y2="857.00" stroke="#666" stroke-width="0.9" />
<line x1="372.24" y1="857.50" x2="379.84" y2="857.50" stroke="#666" stroke-width="0.9" />
<line x1="390.50" y1="852.40" x2="390.50" y2="847.30" stroke="#666" stroke-width="0.9" />
<line x1="386.76" y1="847.50" x2="394.36" y2="847.50" stroke="#666" stroke-width="0.9" />
<line x1="399.50" y1="789.90" x2="399.50" y2="796.60" stroke="#333" stroke-width="0.9" />
<text x="402.10" y="795.70" font-size="9.8" text-anchor="start" font-weight="normal" fill="#231f20" >ns</text>
<line x1="399.50" y1="801.80" x2="399.50" y2="811.50" stroke="#333" stroke-width="0.9" />
<text x="402.10" y="809.10" font-size="9.8" text-anchor="start" font-weight="normal" fill="#231f20" >ns</text>
<line x1="415.50" y1="789.90" x2="415.50" y2="813.20" stroke="#333" stroke-width="0.9" />
<text transform="translate(413.50,802.30) rotate(90)" font-size="14" text-anchor="middle" fill="#231f20">**</text>
<line x1="399.50" y1="817.90" x2="399.50" y2="850.60" stroke="#333" stroke-width="0.9" />
<text transform="translate(397.50,833.90) rotate(90)" font-size="14" text-anchor="middle" fill="#231f20">****</text>
<line x1="426.50" y1="792.20" x2="426.50" y2="850.60" stroke="#333" stroke-width="0.9" />
<text transform="translate(425.10,822.60) rotate(90)" font-size="14" text-anchor="middle" fill="#231f20">****</text>
<text x="455.30" y="694.50" font-size="17.5" text-anchor="start" font-weight="bold" fill="#000" >e</text>
<text x="587.60" y="696.20" font-size="11.5" text-anchor="middle" font-weight="normal" fill="#231f20" >MCA-205</text>
<text x="531.00" y="707.80" font-size="11.4" fill="#231f20">spectrin-β2&#160;(R</text>
<text x="602.81" y="710.80" font-size="7.4" fill="#231f20">913</text>
<path d="M615.76,704.38 L620.56,704.38" stroke="#231f20" stroke-width="0.97" fill="none"/>
<path d="M618.61,702.28 L621.76,704.38 L618.61,706.48 Z" fill="#231f20"/>
<text x="622.36" y="707.80" font-size="11.4" fill="#231f20">L)</text>
<text x="632.49" y="703.30" font-size="7.4" fill="#231f20">low</text>
<line x1="511.10" y1="724.50" x2="524.10" y2="724.50" stroke="#000" stroke-width="0.9" />
<circle cx="517.60" cy="724.60" r="3.8" fill="#000" stroke="#000" stroke-width="0.7"/>
<line x1="511.10" y1="739.50" x2="524.10" y2="739.50" stroke="#5b8fd0" stroke-width="0.9" />
<circle cx="517.60" cy="739.60" r="3.8" fill="#5b8fd0" stroke="#2a4a78" stroke-width="0.7"/>
<line x1="511.10" y1="754.50" x2="524.10" y2="754.50" stroke="#1e9e3a" stroke-width="0.9" />
<circle cx="517.60" cy="754.80" r="3.8" fill="#1e9e3a" stroke="#0a5a1a" stroke-width="0.7"/>
<text x="528.20" y="727.40" font-size="9.6" text-anchor="start" font-weight="normal" fill="#231f20" >WT</text>
<text x="528.20" y="742.80" font-size="9.6" fill="#231f20">sGSN</text>
<text x="553.80" y="738.70" font-size="6.6" fill="#231f20">KO</text>
<text x="528.20" y="758.60" font-size="9.4" fill="#231f20">sGSN</text>
<text x="553.27" y="754.50" font-size="6.6" fill="#231f20">KO</text>
<text x="562.81" y="758.60" font-size="9.4" fill="#231f20">&#160;DNGR-1</text>
<text x="601.45" y="754.50" font-size="6.6" fill="#231f20">KO</text>
<line x1="507.50" y1="767.50" x2="507.50" y2="911.40" stroke="#666" stroke-width="1" />
<line x1="507.70" y1="911.50" x2="653.10" y2="911.50" stroke="#666" stroke-width="1" />
<line x1="503.70" y1="911.50" x2="507.70" y2="911.50" stroke="#333" stroke-width="0.9" />
<text x="499.75" y="914.80" font-size="9.5" text-anchor="end" font-weight="normal" fill="#231f20" letter-spacing="0.55" >0</text>
<line x1="503.70" y1="882.50" x2="507.70" y2="882.50" stroke="#333" stroke-width="0.9" />
<text x="499.75" y="886.12" font-size="9.5" text-anchor="end" font-weight="normal" fill="#231f20" letter-spacing="0.55" >300</text>
<line x1="503.70" y1="854.50" x2="507.70" y2="854.50" stroke="#333" stroke-width="0.9" />
<text x="499.75" y="857.44" font-size="9.5" text-anchor="end" font-weight="normal" fill="#231f20" letter-spacing="0.55" >600</text>
<line x1="503.70" y1="825.50" x2="507.70" y2="825.50" stroke="#333" stroke-width="0.9" />
<text x="499.75" y="828.76" font-size="9.5" text-anchor="end" font-weight="normal" fill="#231f20" letter-spacing="0.55" >900</text>
<line x1="503.70" y1="796.50" x2="507.70" y2="796.50" stroke="#333" stroke-width="0.9" />
<text x="499.75" y="800.08" font-size="9.5" text-anchor="end" font-weight="normal" fill="#231f20" letter-spacing="0.55" >1,200</text>
<line x1="503.70" y1="768.50" x2="507.70" y2="768.50" stroke="#333" stroke-width="0.9" />
<text x="499.75" y="771.40" font-size="9.5" text-anchor="end" font-weight="normal" fill="#231f20" letter-spacing="0.55" >1,500</text>
<line x1="507.50" y1="911.40" x2="507.50" y2="915.40" stroke="#333" stroke-width="0.9" />
<text x="507.97" y="928.00" font-size="9.5" text-anchor="middle" font-weight="normal" fill="#231f20" letter-spacing="0.55" >0</text>
<line x1="542.50" y1="911.40" x2="542.50" y2="915.40" stroke="#333" stroke-width="0.9" />
<text x="542.48" y="928.00" font-size="9.5" text-anchor="middle" font-weight="normal" fill="#231f20" letter-spacing="0.55" >5</text>
<line x1="576.50" y1="911.40" x2="576.50" y2="915.40" stroke="#333" stroke-width="0.9" />
<text x="576.98" y="928.00" font-size="9.5" text-anchor="middle" font-weight="normal" fill="#231f20" letter-spacing="0.55" >10</text>
<line x1="611.50" y1="911.40" x2="611.50" y2="915.40" stroke="#333" stroke-width="0.9" />
<text x="611.48" y="928.00" font-size="9.5" text-anchor="middle" font-weight="normal" fill="#231f20" letter-spacing="0.55" >15</text>
<line x1="645.50" y1="911.40" x2="645.50" y2="915.40" stroke="#333" stroke-width="0.9" />
<text x="645.98" y="928.00" font-size="9.5" text-anchor="middle" font-weight="normal" fill="#231f20" letter-spacing="0.55" >20</text>
<text x="580.50" y="943.70" font-size="11" text-anchor="middle" font-weight="normal" fill="#231f20" >Time (days)</text>
<text transform="translate(466.00,840.00) rotate(-90)" font-size="11.5" text-anchor="middle" fill="#231f20">Tumor volume (mm<tspan font-size="7.5" dy="-4">3</tspan><tspan dy="4">)</tspan></text>
<polyline points="507.70,911.40 542.20,898.30 556.00,886.60 576.70,870.50 590.50,860.40 604.30,844.60 625.00,819.40 638.80,791.90 652.60,803.60" fill="none" stroke="#000" stroke-width="1.3"/>
<circle cx="507.70" cy="911.40" r="3.8" fill="#000" fill-opacity="1" stroke="#000" stroke-width="0.7"/>
<circle cx="542.20" cy="898.30" r="3.8" fill="#000" fill-opacity="1" stroke="#000" stroke-width="0.7"/>
<circle cx="556.00" cy="886.60" r="3.8" fill="#000" fill-opacity="1" stroke="#000" stroke-width="0.7"/>
<circle cx="576.70" cy="870.50" r="3.8" fill="#000" fill-opacity="1" stroke="#000" stroke-width="0.7"/>
<circle cx="590.50" cy="860.40" r="3.8" fill="#000" fill-opacity="1" stroke="#000" stroke-width="0.7"/>
<circle cx="604.30" cy="844.60" r="3.8" fill="#000" fill-opacity="1" stroke="#000" stroke-width="0.7"/>
<circle cx="625.00" cy="819.40" r="3.8" fill="#000" fill-opacity="1" stroke="#000" stroke-width="0.7"/>
<circle cx="638.80" cy="791.90" r="3.8" fill="#000" fill-opacity="1" stroke="#000" stroke-width="0.7"/>
<circle cx="652.60" cy="803.60" r="3.8" fill="#000" fill-opacity="1" stroke="#000" stroke-width="0.7"/>
<line x1="625.50" y1="817.90" x2="625.50" y2="810.80" stroke="#666" stroke-width="0.9" />
<line x1="621.20" y1="810.50" x2="628.80" y2="810.50" stroke="#666" stroke-width="0.9" />
<line x1="638.50" y1="790.40" x2="638.50" y2="775.80" stroke="#666" stroke-width="0.9" />
<line x1="635.00" y1="775.50" x2="642.60" y2="775.50" stroke="#666" stroke-width="0.9" />
<line x1="652.50" y1="802.10" x2="652.50" y2="789.90" stroke="#666" stroke-width="0.9" />
<line x1="648.80" y1="789.50" x2="656.40" y2="789.50" stroke="#666" stroke-width="0.9" />
<polyline points="507.70,911.40 542.20,906.70 556.00,902.70 576.70,892.60 590.50,884.90 604.30,874.80 625.00,868.10 638.80,841.30 652.60,843.60" fill="none" stroke="#5b8fd0" stroke-width="1.0"/>
<circle cx="507.70" cy="911.40" r="3.8" fill="#5b8fd0" fill-opacity="1" stroke="#2a4a78" stroke-width="0.7"/>
<circle cx="542.20" cy="906.70" r="3.8" fill="#5b8fd0" fill-opacity="1" stroke="#2a4a78" stroke-width="0.7"/>
<circle cx="556.00" cy="902.70" r="3.8" fill="#5b8fd0" fill-opacity="1" stroke="#2a4a78" stroke-width="0.7"/>
<circle cx="576.70" cy="892.60" r="3.8" fill="#5b8fd0" fill-opacity="1" stroke="#2a4a78" stroke-width="0.7"/>
<circle cx="590.50" cy="884.90" r="3.8" fill="#5b8fd0" fill-opacity="1" stroke="#2a4a78" stroke-width="0.7"/>
<circle cx="604.30" cy="874.80" r="3.8" fill="#5b8fd0" fill-opacity="1" stroke="#2a4a78" stroke-width="0.7"/>
<circle cx="625.00" cy="868.10" r="3.8" fill="#5b8fd0" fill-opacity="1" stroke="#2a4a78" stroke-width="0.7"/>
<circle cx="638.80" cy="841.30" r="3.8" fill="#5b8fd0" fill-opacity="1" stroke="#2a4a78" stroke-width="0.7"/>
<circle cx="652.60" cy="843.60" r="3.8" fill="#5b8fd0" fill-opacity="1" stroke="#2a4a78" stroke-width="0.7"/>
<line x1="590.50" y1="883.40" x2="590.50" y2="880.00" stroke="#666" stroke-width="0.9" />
<line x1="586.70" y1="880.50" x2="594.30" y2="880.50" stroke="#666" stroke-width="0.9" />
<line x1="604.50" y1="873.30" x2="604.50" y2="866.40" stroke="#666" stroke-width="0.9" />
<line x1="600.50" y1="866.50" x2="608.10" y2="866.50" stroke="#666" stroke-width="0.9" />
<line x1="625.50" y1="866.60" x2="625.50" y2="859.70" stroke="#666" stroke-width="0.9" />
<line x1="621.20" y1="859.50" x2="628.80" y2="859.50" stroke="#666" stroke-width="0.9" />
<line x1="638.50" y1="839.80" x2="638.50" y2="829.50" stroke="#666" stroke-width="0.9" />
<line x1="635.00" y1="829.50" x2="642.60" y2="829.50" stroke="#666" stroke-width="0.9" />
<line x1="652.50" y1="842.10" x2="652.50" y2="826.80" stroke="#666" stroke-width="0.9" />
<line x1="648.80" y1="826.50" x2="656.40" y2="826.50" stroke="#666" stroke-width="0.9" />
<polyline points="507.70,911.40 542.20,894.30 556.00,883.90 576.70,870.50 590.50,849.00 604.30,840.60 625.00,817.10 638.80,806.00 652.60,797.60" fill="none" stroke="#1e9e3a" stroke-width="1.1"/>
<circle cx="507.70" cy="911.40" r="3.8" fill="#1e9e3a" fill-opacity="1" stroke="#0a4a14" stroke-width="0.7"/>
<circle cx="542.20" cy="894.30" r="3.8" fill="#1e9e3a" fill-opacity="1" stroke="#0a4a14" stroke-width="0.7"/>
<circle cx="556.00" cy="883.90" r="3.8" fill="#1e9e3a" fill-opacity="1" stroke="#0a4a14" stroke-width="0.7"/>
<circle cx="576.70" cy="870.50" r="3.8" fill="#1e9e3a" fill-opacity="1" stroke="#0a4a14" stroke-width="0.7"/>
<circle cx="590.50" cy="849.00" r="3.8" fill="#1e9e3a" fill-opacity="1" stroke="#0a4a14" stroke-width="0.7"/>
<circle cx="604.30" cy="840.60" r="3.8" fill="#1e9e3a" fill-opacity="1" stroke="#0a4a14" stroke-width="0.7"/>
<circle cx="625.00" cy="817.10" r="3.8" fill="#1e9e3a" fill-opacity="1" stroke="#0a4a14" stroke-width="0.7"/>
<circle cx="638.80" cy="806.00" r="3.8" fill="#1e9e3a" fill-opacity="1" stroke="#0a4a14" stroke-width="0.7"/>
<circle cx="652.60" cy="797.60" r="3.8" fill="#1e9e3a" fill-opacity="1" stroke="#0a4a14" stroke-width="0.7"/>
<line x1="556.50" y1="882.40" x2="556.50" y2="879.70" stroke="#666" stroke-width="0.9" />
<line x1="552.20" y1="879.50" x2="559.80" y2="879.50" stroke="#666" stroke-width="0.9" />
<line x1="576.50" y1="869.00" x2="576.50" y2="864.90" stroke="#666" stroke-width="0.9" />
<line x1="572.90" y1="864.50" x2="580.50" y2="864.50" stroke="#666" stroke-width="0.9" />
<line x1="590.50" y1="847.50" x2="590.50" y2="843.10" stroke="#666" stroke-width="0.9" />
<line x1="586.70" y1="843.50" x2="594.30" y2="843.50" stroke="#666" stroke-width="0.9" />
<line x1="604.50" y1="839.10" x2="604.50" y2="835.50" stroke="#666" stroke-width="0.9" />
<line x1="600.50" y1="835.50" x2="608.10" y2="835.50" stroke="#666" stroke-width="0.9" />
<line x1="625.50" y1="815.60" x2="625.50" y2="808.90" stroke="#666" stroke-width="0.9" />
<line x1="621.20" y1="808.50" x2="628.80" y2="808.50" stroke="#666" stroke-width="0.9" />
<line x1="652.50" y1="796.10" x2="652.50" y2="784.50" stroke="#666" stroke-width="0.9" />
<line x1="648.80" y1="784.50" x2="656.40" y2="784.50" stroke="#666" stroke-width="0.9" />
<line x1="661.50" y1="791.70" x2="661.50" y2="807.60" stroke="#333" stroke-width="0.9" />
<text x="664.30" y="800.90" font-size="9.8" text-anchor="start" font-weight="normal" fill="#231f20" >ns</text>
<line x1="675.50" y1="799.50" x2="675.50" y2="844.20" stroke="#333" stroke-width="0.9" />
<text transform="translate(674.80,821.40) rotate(90)" font-size="14" text-anchor="middle" fill="#231f20">****</text>
</svg>
</body></html>
